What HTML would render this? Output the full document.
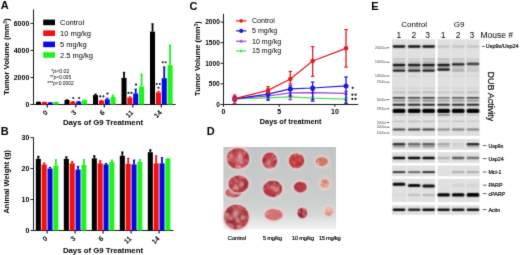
<!DOCTYPE html><html><head><meta charset="utf-8"><style>html,body{margin:0;padding:0;background:#fff;width:520px;height:255px;overflow:hidden}svg{display:block;will-change:transform}text{font-family:"Liberation Sans",sans-serif}</style></head><body>
<svg width="520" height="255" viewBox="0 0 520 255">
<filter id="gb" color-interpolation-filters="sRGB" x="0" y="0" width="520" height="255" filterUnits="userSpaceOnUse"><feConvolveMatrix order="3" kernelMatrix="0.0114 0.0841 0.0114 0.0841 0.6178 0.0841 0.0114 0.0841 0.0114" divisor="1" edgeMode="duplicate"/></filter>
<g filter="url(#gb)"><rect width="520" height="255" fill="#fff"/>
<defs><filter id="b1" x="-50%" y="-50%" width="200%" height="200%" color-interpolation-filters="sRGB"><feConvolveMatrix order="3" kernelMatrix="0.0277 0.1110 0.0277 0.1110 0.4452 0.1110 0.0277 0.1110 0.0277" divisor="1" edgeMode="none"/></filter><filter id="b2" x="-50%" y="-50%" width="200%" height="200%"><feGaussianBlur stdDeviation="1.0"/></filter><filter id="b3" x="-50%" y="-50%" width="200%" height="200%" color-interpolation-filters="sRGB"><feConvolveMatrix order="3" kernelMatrix="0.0052 0.0619 0.0052 0.0619 0.7314 0.0619 0.0052 0.0619 0.0052" divisor="1" edgeMode="none"/></filter></defs>
<text x="0.8" y="9.1" font-size="11" font-weight="bold" text-anchor="start" fill="#000" >A</text>
<text x="0.8" y="135.2" font-size="11" font-weight="bold" text-anchor="start" fill="#000" >B</text>
<text x="189.5" y="10.2" font-size="11" font-weight="bold" text-anchor="start" fill="#000" >C</text>
<text x="206.8" y="135.2" font-size="11" font-weight="bold" text-anchor="start" fill="#000" >D</text>
<text x="371.2" y="10.2" font-size="11" font-weight="bold" text-anchor="start" fill="#000" >E</text>
<line x1="33.5" y1="9.5" x2="33.5" y2="104.5" stroke="#1a1a1a" stroke-width="1"/>
<line x1="33.5" y1="104.5" x2="175.7" y2="104.5" stroke="#1a1a1a" stroke-width="1"/>
<line x1="30.5" y1="104.50" x2="33.5" y2="104.50" stroke="#1a1a1a" stroke-width="1"/>
<text x="29.3" y="107.0" font-size="7" font-weight="bold" text-anchor="end" fill="#000" >0</text>
<line x1="30.5" y1="77.47" x2="33.5" y2="77.47" stroke="#1a1a1a" stroke-width="1"/>
<text x="29.3" y="79.96666666666667" font-size="7" font-weight="bold" text-anchor="end" fill="#000" >2000</text>
<line x1="30.5" y1="50.43" x2="33.5" y2="50.43" stroke="#1a1a1a" stroke-width="1"/>
<text x="29.3" y="52.93333333333334" font-size="7" font-weight="bold" text-anchor="end" fill="#000" >4000</text>
<line x1="30.5" y1="23.40" x2="33.5" y2="23.40" stroke="#1a1a1a" stroke-width="1"/>
<text x="29.3" y="25.900000000000006" font-size="7" font-weight="bold" text-anchor="end" fill="#000" >6000</text>
<text x="0" y="0" font-size="7.7" font-weight="bold" text-anchor="middle" fill="#000" transform="translate(9.2,56.7) rotate(-90)">Tumor Volume (mm<tspan font-size="5" dy="-2.6">3</tspan><tspan dy="2.6">)</tspan></text>
<rect x="36.00" y="101.9" width="5.05" height="2.60" fill="#000000"/>
<line x1="38.52" y1="101.7" x2="38.52" y2="101.9" stroke="#000000" stroke-width="1.8"/>
<line x1="37.23" y1="102.10" x2="39.82" y2="102.10" stroke="#000000" stroke-width="0.8"/>
<rect x="41.85" y="102.0" width="5.05" height="2.50" fill="#f80c0c"/>
<line x1="44.38" y1="101.8" x2="44.38" y2="102.0" stroke="#f80c0c" stroke-width="1.8"/>
<line x1="43.08" y1="102.20" x2="45.67" y2="102.20" stroke="#f80c0c" stroke-width="0.8"/>
<rect x="47.70" y="102.4" width="5.05" height="2.10" fill="#0808e4"/>
<line x1="50.22" y1="102.2" x2="50.22" y2="102.4" stroke="#0808e4" stroke-width="1.8"/>
<line x1="48.92" y1="102.60" x2="51.52" y2="102.60" stroke="#0808e4" stroke-width="0.8"/>
<rect x="53.55" y="102.0" width="5.05" height="2.50" fill="#1cf41c"/>
<line x1="56.07" y1="101.8" x2="56.07" y2="102.0" stroke="#1cf41c" stroke-width="1.8"/>
<line x1="54.77" y1="102.20" x2="57.37" y2="102.20" stroke="#1cf41c" stroke-width="0.8"/>
<line x1="47.30" y1="104.5" x2="47.30" y2="107.5" stroke="#1a1a1a" stroke-width="1.2"/>
<rect x="64.50" y="100.0" width="5.05" height="4.50" fill="#000000"/>
<line x1="67.02" y1="99.5" x2="67.02" y2="100.0" stroke="#000000" stroke-width="1.8"/>
<line x1="65.72" y1="99.90" x2="68.32" y2="99.90" stroke="#000000" stroke-width="0.8"/>
<rect x="70.35" y="101.6" width="5.05" height="2.90" fill="#f80c0c"/>
<line x1="72.87" y1="101.1" x2="72.87" y2="101.6" stroke="#f80c0c" stroke-width="1.8"/>
<line x1="71.57" y1="101.50" x2="74.17" y2="101.50" stroke="#f80c0c" stroke-width="0.8"/>
<rect x="76.20" y="101.6" width="5.05" height="2.90" fill="#0808e4"/>
<line x1="78.72" y1="101.1" x2="78.72" y2="101.6" stroke="#0808e4" stroke-width="1.8"/>
<line x1="77.42" y1="101.50" x2="80.02" y2="101.50" stroke="#0808e4" stroke-width="0.8"/>
<rect x="82.05" y="100.2" width="5.05" height="4.30" fill="#1cf41c"/>
<line x1="84.57" y1="99.7" x2="84.57" y2="100.2" stroke="#1cf41c" stroke-width="1.8"/>
<line x1="83.27" y1="100.10" x2="85.87" y2="100.10" stroke="#1cf41c" stroke-width="0.8"/>
<line x1="75.80" y1="104.5" x2="75.80" y2="107.5" stroke="#1a1a1a" stroke-width="1.2"/>
<rect x="93.00" y="95.1" width="5.05" height="9.40" fill="#000000"/>
<line x1="95.52" y1="93.8" x2="95.52" y2="95.1" stroke="#000000" stroke-width="1.8"/>
<line x1="94.22" y1="94.20" x2="96.82" y2="94.20" stroke="#000000" stroke-width="0.8"/>
<rect x="98.85" y="100.6" width="5.05" height="3.90" fill="#f80c0c"/>
<line x1="101.37" y1="100.0" x2="101.37" y2="100.6" stroke="#f80c0c" stroke-width="1.8"/>
<line x1="100.07" y1="100.40" x2="102.67" y2="100.40" stroke="#f80c0c" stroke-width="0.8"/>
<rect x="104.70" y="99.3" width="5.05" height="5.20" fill="#0808e4"/>
<line x1="107.22" y1="97.9" x2="107.22" y2="99.3" stroke="#0808e4" stroke-width="1.8"/>
<line x1="105.92" y1="98.30" x2="108.52" y2="98.30" stroke="#0808e4" stroke-width="0.8"/>
<rect x="110.55" y="97.0" width="5.05" height="7.50" fill="#1cf41c"/>
<line x1="113.07" y1="94.8" x2="113.07" y2="97.0" stroke="#1cf41c" stroke-width="1.8"/>
<line x1="111.77" y1="95.20" x2="114.37" y2="95.20" stroke="#1cf41c" stroke-width="0.8"/>
<line x1="104.30" y1="104.5" x2="104.30" y2="107.5" stroke="#1a1a1a" stroke-width="1.2"/>
<rect x="121.50" y="77.8" width="5.05" height="26.70" fill="#000000"/>
<line x1="124.02" y1="71.9" x2="124.02" y2="77.8" stroke="#000000" stroke-width="1.8"/>
<line x1="122.72" y1="72.30" x2="125.32" y2="72.30" stroke="#000000" stroke-width="0.8"/>
<rect x="127.35" y="97.5" width="5.05" height="7.00" fill="#f80c0c"/>
<line x1="129.88" y1="96.5" x2="129.88" y2="97.5" stroke="#f80c0c" stroke-width="1.8"/>
<line x1="128.57" y1="96.90" x2="131.18" y2="96.90" stroke="#f80c0c" stroke-width="0.8"/>
<rect x="133.20" y="93.4" width="5.05" height="11.10" fill="#0808e4"/>
<line x1="135.72" y1="88.8" x2="135.72" y2="93.4" stroke="#0808e4" stroke-width="1.8"/>
<line x1="134.42" y1="89.20" x2="137.03" y2="89.20" stroke="#0808e4" stroke-width="0.8"/>
<rect x="139.05" y="86.4" width="5.05" height="18.10" fill="#1cf41c"/>
<line x1="141.57" y1="73.7" x2="141.57" y2="86.4" stroke="#1cf41c" stroke-width="1.8"/>
<line x1="140.27" y1="74.10" x2="142.88" y2="74.10" stroke="#1cf41c" stroke-width="0.8"/>
<line x1="132.80" y1="104.5" x2="132.80" y2="107.5" stroke="#1a1a1a" stroke-width="1.2"/>
<rect x="150.00" y="31.6" width="5.05" height="72.90" fill="#000000"/>
<line x1="152.53" y1="23.5" x2="152.53" y2="31.6" stroke="#000000" stroke-width="1.8"/>
<line x1="151.22" y1="23.90" x2="153.83" y2="23.90" stroke="#000000" stroke-width="0.8"/>
<rect x="155.85" y="92.4" width="5.05" height="12.10" fill="#f80c0c"/>
<line x1="158.38" y1="91.0" x2="158.38" y2="92.4" stroke="#f80c0c" stroke-width="1.8"/>
<line x1="157.07" y1="91.40" x2="159.68" y2="91.40" stroke="#f80c0c" stroke-width="0.8"/>
<rect x="161.70" y="78.2" width="5.05" height="26.30" fill="#0808e4"/>
<line x1="164.22" y1="66.6" x2="164.22" y2="78.2" stroke="#0808e4" stroke-width="1.8"/>
<line x1="162.92" y1="67.00" x2="165.53" y2="67.00" stroke="#0808e4" stroke-width="0.8"/>
<rect x="167.55" y="65.2" width="5.05" height="39.30" fill="#1cf41c"/>
<line x1="170.07" y1="44.7" x2="170.07" y2="65.2" stroke="#1cf41c" stroke-width="1.8"/>
<line x1="168.77" y1="45.10" x2="171.38" y2="45.10" stroke="#1cf41c" stroke-width="0.8"/>
<line x1="161.30" y1="104.5" x2="161.30" y2="107.5" stroke="#1a1a1a" stroke-width="1.2"/>
<text x="0" y="0" font-size="7" font-weight="bold" text-anchor="end" fill="#000" transform="translate(48.30,113.0) rotate(-45)">0</text>
<text x="0" y="0" font-size="7" font-weight="bold" text-anchor="end" fill="#000" transform="translate(76.80,113.0) rotate(-45)">3</text>
<text x="0" y="0" font-size="7" font-weight="bold" text-anchor="end" fill="#000" transform="translate(105.30,113.0) rotate(-45)">6</text>
<text x="0" y="0" font-size="7" font-weight="bold" text-anchor="end" fill="#000" transform="translate(133.80,113.0) rotate(-45)">11</text>
<text x="0" y="0" font-size="7" font-weight="bold" text-anchor="end" fill="#000" transform="translate(162.30,113.0) rotate(-45)">14</text>
<text x="103" y="124.6" font-size="7.8" font-weight="bold" text-anchor="middle" fill="#000" >Days of G9 Treatment</text>
<circle cx="73.3" cy="98.0" r="1.05" fill="#1a1a1a"/>
<circle cx="79.2" cy="98.0" r="1.05" fill="#1a1a1a"/>
<circle cx="100.2" cy="96.4" r="1.05" fill="#1a1a1a"/>
<circle cx="103.4" cy="96.4" r="1.05" fill="#1a1a1a"/>
<circle cx="107.5" cy="93.6" r="1.15" fill="#1a1a1a"/>
<circle cx="128.5" cy="92.9" r="1.05" fill="#1a1a1a"/>
<circle cx="131.5" cy="92.9" r="1.05" fill="#1a1a1a"/>
<circle cx="136.0" cy="84.6" r="1.15" fill="#1a1a1a"/>
<circle cx="156.8" cy="84.0" r="1.05" fill="#1a1a1a"/>
<circle cx="159.8" cy="84.0" r="1.05" fill="#1a1a1a"/>
<circle cx="158.5" cy="87.8" r="1.05" fill="#1a1a1a"/>
<circle cx="162.7" cy="62.3" r="1.05" fill="#1a1a1a"/>
<circle cx="165.6" cy="62.3" r="1.05" fill="#1a1a1a"/>
<rect x="43.2" y="19.6" width="11.8" height="5.6" fill="#000000"/>
<text x="60" y="24.900000000000002" font-size="7.5" font-weight="normal" text-anchor="start" fill="#000" >Control</text>
<rect x="43.2" y="30.4" width="11.8" height="5.6" fill="#f80c0c"/>
<text x="60" y="35.699999999999996" font-size="7.5" font-weight="normal" text-anchor="start" fill="#000" >10 mg/kg</text>
<rect x="43.2" y="41.6" width="11.8" height="5.6" fill="#0808e4"/>
<text x="60" y="46.9" font-size="7.5" font-weight="normal" text-anchor="start" fill="#000" >5 mg/kg</text>
<rect x="43.2" y="52.2" width="11.8" height="5.6" fill="#1cf41c"/>
<text x="60" y="57.5" font-size="7.5" font-weight="normal" text-anchor="start" fill="#000" >2.5 mg/kg</text>
<text x="51.2" y="73.3" font-size="5.2" font-weight="normal" text-anchor="start" fill="#000" textLength="18.3" lengthAdjust="spacingAndGlyphs">*<tspan font-style="italic">p</tspan>&lt;0.02</text>
<text x="50.0" y="78.7" font-size="5.2" font-weight="normal" text-anchor="start" fill="#000" textLength="21.1" lengthAdjust="spacingAndGlyphs">**<tspan font-style="italic">p</tspan>&lt;0.005</text>
<text x="47.3" y="84.7" font-size="5.2" font-weight="normal" text-anchor="start" fill="#000" textLength="26.5" lengthAdjust="spacingAndGlyphs">***<tspan font-style="italic">p</tspan>&lt;0.0002</text>
<line x1="33.5" y1="137.4" x2="33.5" y2="230.5" stroke="#1a1a1a" stroke-width="1"/>
<line x1="33.5" y1="230.5" x2="173.5" y2="230.5" stroke="#1a1a1a" stroke-width="1"/>
<line x1="30.5" y1="230.50" x2="33.5" y2="230.50" stroke="#1a1a1a" stroke-width="1"/>
<text x="29.3" y="233.0" font-size="7" font-weight="bold" text-anchor="end" fill="#000" >0</text>
<line x1="30.5" y1="199.53" x2="33.5" y2="199.53" stroke="#1a1a1a" stroke-width="1"/>
<text x="29.3" y="202.03333333333333" font-size="7" font-weight="bold" text-anchor="end" fill="#000" >10</text>
<line x1="30.5" y1="168.57" x2="33.5" y2="168.57" stroke="#1a1a1a" stroke-width="1"/>
<text x="29.3" y="171.06666666666666" font-size="7" font-weight="bold" text-anchor="end" fill="#000" >20</text>
<line x1="30.5" y1="137.60" x2="33.5" y2="137.60" stroke="#1a1a1a" stroke-width="1"/>
<text x="29.3" y="140.1" font-size="7" font-weight="bold" text-anchor="end" fill="#000" >30</text>
<text x="0" y="0" font-size="7.5" font-weight="bold" text-anchor="middle" fill="#000" transform="translate(9.2,181.8) rotate(-90)">Animal Weight (g)</text>
<rect x="35.80" y="158.9" width="5.05" height="71.60" fill="#000000"/>
<line x1="38.32" y1="156.0" x2="38.32" y2="158.9" stroke="#000000" stroke-width="1.8"/>
<line x1="37.02" y1="156.40" x2="39.62" y2="156.40" stroke="#000000" stroke-width="0.8"/>
<rect x="41.65" y="164.4" width="5.05" height="66.10" fill="#f80c0c"/>
<line x1="44.17" y1="162.7" x2="44.17" y2="164.4" stroke="#f80c0c" stroke-width="1.8"/>
<line x1="42.88" y1="163.10" x2="45.47" y2="163.10" stroke="#f80c0c" stroke-width="0.8"/>
<rect x="47.50" y="168.5" width="5.05" height="62.00" fill="#0808e4"/>
<line x1="50.02" y1="167.0" x2="50.02" y2="168.5" stroke="#0808e4" stroke-width="1.8"/>
<line x1="48.72" y1="167.40" x2="51.32" y2="167.40" stroke="#0808e4" stroke-width="0.8"/>
<rect x="53.35" y="165.9" width="5.05" height="64.60" fill="#1cf41c"/>
<line x1="55.87" y1="159.4" x2="55.87" y2="165.9" stroke="#1cf41c" stroke-width="1.8"/>
<line x1="54.57" y1="159.80" x2="57.17" y2="159.80" stroke="#1cf41c" stroke-width="0.8"/>
<line x1="47.10" y1="230.5" x2="47.10" y2="233.5" stroke="#1a1a1a" stroke-width="1.2"/>
<rect x="63.80" y="158.9" width="5.05" height="71.60" fill="#000000"/>
<line x1="66.33" y1="156.5" x2="66.33" y2="158.9" stroke="#000000" stroke-width="1.8"/>
<line x1="65.03" y1="156.90" x2="67.62" y2="156.90" stroke="#000000" stroke-width="0.8"/>
<rect x="69.65" y="163.3" width="5.05" height="67.20" fill="#f80c0c"/>
<line x1="72.17" y1="161.3" x2="72.17" y2="163.3" stroke="#f80c0c" stroke-width="1.8"/>
<line x1="70.88" y1="161.70" x2="73.47" y2="161.70" stroke="#f80c0c" stroke-width="0.8"/>
<rect x="75.50" y="169.5" width="5.05" height="61.00" fill="#0808e4"/>
<line x1="78.02" y1="165.9" x2="78.02" y2="169.5" stroke="#0808e4" stroke-width="1.8"/>
<line x1="76.72" y1="166.30" x2="79.32" y2="166.30" stroke="#0808e4" stroke-width="0.8"/>
<rect x="81.35" y="165.0" width="5.05" height="65.50" fill="#1cf41c"/>
<line x1="83.87" y1="159.4" x2="83.87" y2="165.0" stroke="#1cf41c" stroke-width="1.8"/>
<line x1="82.57" y1="159.80" x2="85.17" y2="159.80" stroke="#1cf41c" stroke-width="0.8"/>
<line x1="75.10" y1="230.5" x2="75.10" y2="233.5" stroke="#1a1a1a" stroke-width="1.2"/>
<rect x="91.80" y="158.4" width="5.05" height="72.10" fill="#000000"/>
<line x1="94.33" y1="155.5" x2="94.33" y2="158.4" stroke="#000000" stroke-width="1.8"/>
<line x1="93.03" y1="155.90" x2="95.62" y2="155.90" stroke="#000000" stroke-width="0.8"/>
<rect x="97.65" y="163.3" width="5.05" height="67.20" fill="#f80c0c"/>
<line x1="100.17" y1="160.4" x2="100.17" y2="163.3" stroke="#f80c0c" stroke-width="1.8"/>
<line x1="98.88" y1="160.80" x2="101.47" y2="160.80" stroke="#f80c0c" stroke-width="0.8"/>
<rect x="103.50" y="164.4" width="5.05" height="66.10" fill="#0808e4"/>
<line x1="106.03" y1="163.0" x2="106.03" y2="164.4" stroke="#0808e4" stroke-width="1.8"/>
<line x1="104.73" y1="163.40" x2="107.33" y2="163.40" stroke="#0808e4" stroke-width="0.8"/>
<rect x="109.35" y="161.8" width="5.05" height="68.70" fill="#1cf41c"/>
<line x1="111.88" y1="159.8" x2="111.88" y2="161.8" stroke="#1cf41c" stroke-width="1.8"/>
<line x1="110.58" y1="160.20" x2="113.17" y2="160.20" stroke="#1cf41c" stroke-width="0.8"/>
<line x1="103.10" y1="230.5" x2="103.10" y2="233.5" stroke="#1a1a1a" stroke-width="1.2"/>
<rect x="119.80" y="155.8" width="5.05" height="74.70" fill="#000000"/>
<line x1="122.33" y1="151.7" x2="122.33" y2="155.8" stroke="#000000" stroke-width="1.8"/>
<line x1="121.03" y1="152.10" x2="123.62" y2="152.10" stroke="#000000" stroke-width="0.8"/>
<rect x="125.65" y="163.7" width="5.05" height="66.80" fill="#f80c0c"/>
<line x1="128.18" y1="157.9" x2="128.18" y2="163.7" stroke="#f80c0c" stroke-width="1.8"/>
<line x1="126.88" y1="158.30" x2="129.48" y2="158.30" stroke="#f80c0c" stroke-width="0.8"/>
<rect x="131.50" y="164.4" width="5.05" height="66.10" fill="#0808e4"/>
<line x1="134.03" y1="159.8" x2="134.03" y2="164.4" stroke="#0808e4" stroke-width="1.8"/>
<line x1="132.72" y1="160.20" x2="135.33" y2="160.20" stroke="#0808e4" stroke-width="0.8"/>
<rect x="137.35" y="161.8" width="5.05" height="68.70" fill="#1cf41c"/>
<line x1="139.88" y1="159.4" x2="139.88" y2="161.8" stroke="#1cf41c" stroke-width="1.8"/>
<line x1="138.57" y1="159.80" x2="141.18" y2="159.80" stroke="#1cf41c" stroke-width="0.8"/>
<line x1="131.10" y1="230.5" x2="131.10" y2="233.5" stroke="#1a1a1a" stroke-width="1.2"/>
<rect x="147.80" y="152.2" width="5.05" height="78.30" fill="#000000"/>
<line x1="150.33" y1="149.5" x2="150.33" y2="152.2" stroke="#000000" stroke-width="1.8"/>
<line x1="149.03" y1="149.90" x2="151.63" y2="149.90" stroke="#000000" stroke-width="0.8"/>
<rect x="153.65" y="163.3" width="5.05" height="67.20" fill="#f80c0c"/>
<line x1="156.18" y1="155.5" x2="156.18" y2="163.3" stroke="#f80c0c" stroke-width="1.8"/>
<line x1="154.88" y1="155.90" x2="157.48" y2="155.90" stroke="#f80c0c" stroke-width="0.8"/>
<rect x="159.50" y="163.3" width="5.05" height="67.20" fill="#0808e4"/>
<line x1="162.03" y1="157.2" x2="162.03" y2="163.3" stroke="#0808e4" stroke-width="1.8"/>
<line x1="160.72" y1="157.60" x2="163.33" y2="157.60" stroke="#0808e4" stroke-width="0.8"/>
<rect x="165.35" y="158.7" width="5.05" height="71.80" fill="#1cf41c"/>
<line x1="167.88" y1="158.0" x2="167.88" y2="158.7" stroke="#1cf41c" stroke-width="1.8"/>
<line x1="166.57" y1="158.40" x2="169.18" y2="158.40" stroke="#1cf41c" stroke-width="0.8"/>
<line x1="159.10" y1="230.5" x2="159.10" y2="233.5" stroke="#1a1a1a" stroke-width="1.2"/>
<text x="0" y="0" font-size="7" font-weight="bold" text-anchor="end" fill="#000" transform="translate(48.10,239.1) rotate(-45)">0</text>
<text x="0" y="0" font-size="7" font-weight="bold" text-anchor="end" fill="#000" transform="translate(76.10,239.1) rotate(-45)">3</text>
<text x="0" y="0" font-size="7" font-weight="bold" text-anchor="end" fill="#000" transform="translate(104.10,239.1) rotate(-45)">6</text>
<text x="0" y="0" font-size="7" font-weight="bold" text-anchor="end" fill="#000" transform="translate(132.10,239.1) rotate(-45)">11</text>
<text x="0" y="0" font-size="7" font-weight="bold" text-anchor="end" fill="#000" transform="translate(160.10,239.1) rotate(-45)">14</text>
<text x="103" y="253.2" font-size="7.8" font-weight="bold" text-anchor="middle" fill="#000" >Days of G9 Treatment</text>
<line x1="223.5" y1="13.8" x2="223.5" y2="104.5" stroke="#1a1a1a" stroke-width="1"/>
<line x1="223.5" y1="104.5" x2="358.3" y2="104.5" stroke="#1a1a1a" stroke-width="1"/>
<line x1="220.6" y1="104.50" x2="223.5" y2="104.50" stroke="#1a1a1a" stroke-width="1"/>
<text x="219.8" y="106.8" font-size="6.6" font-weight="bold" text-anchor="end" fill="#000" >0</text>
<line x1="220.6" y1="83.90" x2="223.5" y2="83.90" stroke="#1a1a1a" stroke-width="1"/>
<text x="219.8" y="86.2" font-size="6.6" font-weight="bold" text-anchor="end" fill="#000" >500</text>
<line x1="220.6" y1="63.30" x2="223.5" y2="63.30" stroke="#1a1a1a" stroke-width="1"/>
<text x="219.8" y="65.6" font-size="6.6" font-weight="bold" text-anchor="end" fill="#000" >1000</text>
<line x1="220.6" y1="42.70" x2="223.5" y2="42.70" stroke="#1a1a1a" stroke-width="1"/>
<text x="219.8" y="44.99999999999999" font-size="6.6" font-weight="bold" text-anchor="end" fill="#000" >1500</text>
<line x1="220.6" y1="22.10" x2="223.5" y2="22.10" stroke="#1a1a1a" stroke-width="1"/>
<text x="219.8" y="24.399999999999995" font-size="6.6" font-weight="bold" text-anchor="end" fill="#000" >2000</text>
<line x1="223.50" y1="104.5" x2="223.50" y2="106.8" stroke="#1a1a1a" stroke-width="1"/>
<text x="223.5" y="114.2" font-size="7" font-weight="bold" text-anchor="middle" fill="#000" >0</text>
<line x1="279.20" y1="104.5" x2="279.20" y2="106.8" stroke="#1a1a1a" stroke-width="1"/>
<text x="279.2" y="114.2" font-size="7" font-weight="bold" text-anchor="middle" fill="#000" >5</text>
<line x1="334.90" y1="104.5" x2="334.90" y2="106.8" stroke="#1a1a1a" stroke-width="1"/>
<text x="334.9" y="114.2" font-size="7" font-weight="bold" text-anchor="middle" fill="#000" >10</text>
<text x="290.65" y="123.9" font-size="7.3" font-weight="bold" text-anchor="middle" fill="#000" >Days of treatment</text>
<text x="0" y="0" font-size="7.5" font-weight="bold" text-anchor="middle" fill="#000" transform="translate(200.4,58.6) rotate(-90)">Tumor Volume (mm<tspan font-size="5" dy="-2.5">3</tspan><tspan dy="2.5">)</tspan></text>
<line x1="234.64" y1="97.5" x2="234.64" y2="100.5" stroke="#55dd55" stroke-width="1.3"/>
<line x1="232.84" y1="97.5" x2="236.44" y2="97.5" stroke="#55dd55" stroke-width="1.2"/>
<line x1="232.84" y1="100.5" x2="236.44" y2="100.5" stroke="#55dd55" stroke-width="1.2"/>
<line x1="268.06" y1="96.5" x2="268.06" y2="99.2" stroke="#55dd55" stroke-width="1.3"/>
<line x1="266.26" y1="96.5" x2="269.86" y2="96.5" stroke="#55dd55" stroke-width="1.2"/>
<line x1="266.26" y1="99.2" x2="269.86" y2="99.2" stroke="#55dd55" stroke-width="1.2"/>
<line x1="290.34" y1="95.5" x2="290.34" y2="99.6" stroke="#55dd55" stroke-width="1.3"/>
<line x1="288.54" y1="95.5" x2="292.14" y2="95.5" stroke="#55dd55" stroke-width="1.2"/>
<line x1="288.54" y1="99.6" x2="292.14" y2="99.6" stroke="#55dd55" stroke-width="1.2"/>
<line x1="312.62" y1="97.0" x2="312.62" y2="99.5" stroke="#55dd55" stroke-width="1.3"/>
<line x1="310.82" y1="97.0" x2="314.42" y2="97.0" stroke="#55dd55" stroke-width="1.2"/>
<line x1="310.82" y1="99.5" x2="314.42" y2="99.5" stroke="#55dd55" stroke-width="1.2"/>
<line x1="346.04" y1="98.0" x2="346.04" y2="100.5" stroke="#55dd55" stroke-width="1.3"/>
<line x1="344.24" y1="98.0" x2="347.84" y2="98.0" stroke="#55dd55" stroke-width="1.2"/>
<line x1="344.24" y1="100.5" x2="347.84" y2="100.5" stroke="#55dd55" stroke-width="1.2"/>
<polyline points="234.64,98.8 268.06,97.8 290.34,96.9 312.62,98.2 346.04,99.2" fill="none" stroke="#55dd55" stroke-width="1.25"/>
<path d="M234.64,96.70 L236.64,100.20 L232.64,100.20Z" fill="#55dd55"/>
<path d="M268.06,95.70 L270.06,99.20 L266.06,99.20Z" fill="#55dd55"/>
<path d="M290.34,94.80 L292.34,98.30 L288.34,98.30Z" fill="#55dd55"/>
<path d="M312.62,96.10 L314.62,99.60 L310.62,99.60Z" fill="#55dd55"/>
<path d="M346.04,97.10 L348.04,100.60 L344.04,100.60Z" fill="#55dd55"/>
<line x1="234.64" y1="97.0" x2="234.64" y2="100.5" stroke="#a040d8" stroke-width="1.3"/>
<line x1="232.84" y1="97.0" x2="236.44" y2="97.0" stroke="#a040d8" stroke-width="1.2"/>
<line x1="232.84" y1="100.5" x2="236.44" y2="100.5" stroke="#a040d8" stroke-width="1.2"/>
<line x1="268.06" y1="94.5" x2="268.06" y2="97.5" stroke="#a040d8" stroke-width="1.3"/>
<line x1="266.26" y1="94.5" x2="269.86" y2="94.5" stroke="#a040d8" stroke-width="1.2"/>
<line x1="266.26" y1="97.5" x2="269.86" y2="97.5" stroke="#a040d8" stroke-width="1.2"/>
<line x1="290.34" y1="90.5" x2="290.34" y2="99.6" stroke="#a040d8" stroke-width="1.3"/>
<line x1="288.54" y1="90.5" x2="292.14" y2="90.5" stroke="#a040d8" stroke-width="1.2"/>
<line x1="288.54" y1="99.6" x2="292.14" y2="99.6" stroke="#a040d8" stroke-width="1.2"/>
<line x1="312.62" y1="90.5" x2="312.62" y2="101.5" stroke="#a040d8" stroke-width="1.3"/>
<line x1="310.82" y1="90.5" x2="314.42" y2="90.5" stroke="#a040d8" stroke-width="1.2"/>
<line x1="310.82" y1="101.5" x2="314.42" y2="101.5" stroke="#a040d8" stroke-width="1.2"/>
<line x1="346.04" y1="91.5" x2="346.04" y2="103.6" stroke="#a040d8" stroke-width="1.3"/>
<line x1="344.24" y1="91.5" x2="347.84" y2="91.5" stroke="#a040d8" stroke-width="1.2"/>
<line x1="344.24" y1="103.6" x2="347.84" y2="103.6" stroke="#a040d8" stroke-width="1.2"/>
<polyline points="234.64,98.8 268.06,96.0 290.34,92.8 312.62,92.7 346.04,93.4" fill="none" stroke="#a040d8" stroke-width="1.25"/>
<path d="M234.64,96.70 L236.64,100.20 L232.64,100.20Z" fill="#a040d8"/>
<path d="M268.06,93.90 L270.06,97.40 L266.06,97.40Z" fill="#a040d8"/>
<path d="M290.34,90.70 L292.34,94.20 L288.34,94.20Z" fill="#a040d8"/>
<path d="M312.62,90.60 L314.62,94.10 L310.62,94.10Z" fill="#a040d8"/>
<path d="M346.04,91.30 L348.04,94.80 L344.04,94.80Z" fill="#a040d8"/>
<line x1="234.64" y1="96.5" x2="234.64" y2="101.0" stroke="#1a1ad8" stroke-width="1.3"/>
<line x1="232.84" y1="96.5" x2="236.44" y2="96.5" stroke="#1a1ad8" stroke-width="1.2"/>
<line x1="232.84" y1="101.0" x2="236.44" y2="101.0" stroke="#1a1ad8" stroke-width="1.2"/>
<line x1="268.06" y1="91.5" x2="268.06" y2="100.2" stroke="#1a1ad8" stroke-width="1.3"/>
<line x1="266.26" y1="91.5" x2="269.86" y2="91.5" stroke="#1a1ad8" stroke-width="1.2"/>
<line x1="266.26" y1="100.2" x2="269.86" y2="100.2" stroke="#1a1ad8" stroke-width="1.2"/>
<line x1="290.34" y1="85.8" x2="290.34" y2="96.0" stroke="#1a1ad8" stroke-width="1.3"/>
<line x1="288.54" y1="85.8" x2="292.14" y2="85.8" stroke="#1a1ad8" stroke-width="1.2"/>
<line x1="288.54" y1="96.0" x2="292.14" y2="96.0" stroke="#1a1ad8" stroke-width="1.2"/>
<line x1="312.62" y1="82.1" x2="312.62" y2="100.0" stroke="#1a1ad8" stroke-width="1.3"/>
<line x1="310.82" y1="82.1" x2="314.42" y2="82.1" stroke="#1a1ad8" stroke-width="1.2"/>
<line x1="310.82" y1="100.0" x2="314.42" y2="100.0" stroke="#1a1ad8" stroke-width="1.2"/>
<line x1="346.04" y1="77.0" x2="346.04" y2="103.2" stroke="#1a1ad8" stroke-width="1.3"/>
<line x1="344.24" y1="77.0" x2="347.84" y2="77.0" stroke="#1a1ad8" stroke-width="1.2"/>
<line x1="344.24" y1="103.2" x2="347.84" y2="103.2" stroke="#1a1ad8" stroke-width="1.2"/>
<polyline points="234.64,98.8 268.06,94.1 290.34,88.9 312.62,88.0 346.04,85.9" fill="none" stroke="#1a1ad8" stroke-width="1.25"/>
<circle cx="234.64" cy="98.8" r="2.5" fill="#1a1ad8"/>
<circle cx="268.06" cy="94.1" r="2.5" fill="#1a1ad8"/>
<circle cx="290.34" cy="88.9" r="2.5" fill="#1a1ad8"/>
<circle cx="312.62" cy="88.0" r="2.5" fill="#1a1ad8"/>
<circle cx="346.04" cy="85.9" r="2.5" fill="#1a1ad8"/>
<line x1="234.64" y1="95.0" x2="234.64" y2="103.3" stroke="#e41a1c" stroke-width="1.3"/>
<line x1="232.84" y1="95.0" x2="236.44" y2="95.0" stroke="#e41a1c" stroke-width="1.2"/>
<line x1="232.84" y1="103.3" x2="236.44" y2="103.3" stroke="#e41a1c" stroke-width="1.2"/>
<line x1="268.06" y1="86.7" x2="268.06" y2="93.2" stroke="#e41a1c" stroke-width="1.3"/>
<line x1="266.26" y1="86.7" x2="269.86" y2="86.7" stroke="#e41a1c" stroke-width="1.2"/>
<line x1="266.26" y1="93.2" x2="269.86" y2="93.2" stroke="#e41a1c" stroke-width="1.2"/>
<line x1="290.34" y1="71.4" x2="290.34" y2="84.0" stroke="#e41a1c" stroke-width="1.3"/>
<line x1="288.54" y1="71.4" x2="292.14" y2="71.4" stroke="#e41a1c" stroke-width="1.2"/>
<line x1="288.54" y1="84.0" x2="292.14" y2="84.0" stroke="#e41a1c" stroke-width="1.2"/>
<line x1="312.62" y1="46.6" x2="312.62" y2="76.3" stroke="#e41a1c" stroke-width="1.3"/>
<line x1="310.82" y1="46.6" x2="314.42" y2="46.6" stroke="#e41a1c" stroke-width="1.2"/>
<line x1="310.82" y1="76.3" x2="314.42" y2="76.3" stroke="#e41a1c" stroke-width="1.2"/>
<line x1="346.04" y1="29.6" x2="346.04" y2="67.1" stroke="#e41a1c" stroke-width="1.3"/>
<line x1="344.24" y1="29.6" x2="347.84" y2="29.6" stroke="#e41a1c" stroke-width="1.2"/>
<line x1="344.24" y1="67.1" x2="347.84" y2="67.1" stroke="#e41a1c" stroke-width="1.2"/>
<polyline points="234.64,98.7 268.06,90.4 290.34,79.0 312.62,61.0 346.04,48.3" fill="none" stroke="#e41a1c" stroke-width="1.25"/>
<circle cx="234.64" cy="98.7" r="2.3" fill="#e41a1c"/>
<circle cx="268.06" cy="90.4" r="2.3" fill="#e41a1c"/>
<circle cx="290.34" cy="79.0" r="2.3" fill="#e41a1c"/>
<circle cx="312.62" cy="61.0" r="2.3" fill="#e41a1c"/>
<circle cx="346.04" cy="48.3" r="2.3" fill="#e41a1c"/>
<circle cx="352.7" cy="87.8" r="1.1" fill="#1a1a1a"/>
<circle cx="352.4" cy="94.7" r="1.1" fill="#1a1a1a"/>
<circle cx="355.6" cy="94.7" r="1.1" fill="#1a1a1a"/>
<circle cx="352.4" cy="98.9" r="1.1" fill="#1a1a1a"/>
<circle cx="355.6" cy="98.9" r="1.1" fill="#1a1a1a"/>
<line x1="236" y1="20.9" x2="246.4" y2="20.9" stroke="#e41a1c" stroke-width="1.2"/>
<circle cx="241.2" cy="20.9" r="1.8" fill="#e41a1c"/>
<text x="252" y="23.4" font-size="7.1" font-weight="normal" text-anchor="start" fill="#000" >Control</text>
<line x1="236" y1="30.9" x2="246.4" y2="30.9" stroke="#1a1ad8" stroke-width="1.2"/>
<circle cx="241.2" cy="30.9" r="2.1" fill="#1a1ad8"/>
<text x="252" y="33.4" font-size="7.1" font-weight="normal" text-anchor="start" fill="#000" >5 mg/kg</text>
<line x1="236" y1="41.2" x2="246.4" y2="41.2" stroke="#a040d8" stroke-width="1.2"/>
<path d="M241.2,39.30 L243.0,42.50 L239.4,42.50Z" fill="#a040d8"/>
<text x="252" y="43.7" font-size="7.1" font-weight="normal" text-anchor="start" fill="#000" >10 mg/kg</text>
<line x1="236" y1="50.9" x2="246.4" y2="50.9" stroke="#55dd55" stroke-width="1.2"/>
<path d="M241.2,49.00 L243.0,52.20 L239.4,52.20Z" fill="#55dd55"/>
<text x="252" y="53.4" font-size="7.1" font-weight="normal" text-anchor="start" fill="#000" >15 mg/kg</text>
<defs><linearGradient id="pg" x1="0" y1="0" x2="0" y2="1"><stop offset="0" stop-color="#bec5c5"/><stop offset="0.08" stop-color="#c3c7c7"/><stop offset="0.4" stop-color="#c8caca"/><stop offset="0.65" stop-color="#cbcfce"/><stop offset="0.8" stop-color="#d2d6d5"/><stop offset="0.9" stop-color="#e2e5e4"/><stop offset="1" stop-color="#f2f3f3"/></linearGradient><radialGradient id="tr" cx="0.45" cy="0.45" r="0.6"><stop offset="0" stop-color="#b83040"/><stop offset="0.7" stop-color="#a82436"/><stop offset="1" stop-color="#d88890"/></radialGradient></defs>
<rect x="223.4" y="147.0" width="112.6" height="82.3" fill="url(#pg)"/>
<ellipse cx="238.0" cy="158.5" rx="12.899999999999999" ry="12.0" fill="#eed4d4" opacity="0.9" filter="url(#b2)"/>
<clipPath id="tc0"><ellipse cx="238.0" cy="158.5" rx="11.2" ry="10.3"/></clipPath>
<g filter="url(#b1)"><g clip-path="url(#tc0)">
<ellipse cx="238.0" cy="158.5" rx="11.2" ry="10.3" fill="#c04c54"/>
<ellipse cx="238.0" cy="158.5" rx="11.2" ry="10.3" fill="none" stroke="#8a2430" stroke-width="2.2" opacity="0.55"/>
<circle cx="236.9" cy="159.7" r="2.6" fill="#d88080" opacity="0.55"/>
<circle cx="236.9" cy="165.8" r="1.4" fill="#c89898" opacity="0.55"/>
<circle cx="237.5" cy="160.8" r="1.3" fill="#d88080" opacity="0.55"/>
<circle cx="233.6" cy="150.1" r="2.4" fill="#8a2430" opacity="0.55"/>
<circle cx="240.1" cy="156.4" r="1.8" fill="#dca098" opacity="0.55"/>
<circle cx="240.8" cy="165.3" r="1.1" fill="#8a2430" opacity="0.55"/>
<circle cx="231.1" cy="153.2" r="1.1" fill="#d88080" opacity="0.55"/>
<circle cx="234.1" cy="160.4" r="1.4" fill="#b83840" opacity="0.55"/>
<circle cx="241.1" cy="158.5" r="2.2" fill="#d88080" opacity="0.55"/>
<circle cx="241.5" cy="156.6" r="2.0" fill="#d06a6c" opacity="0.55"/>
<circle cx="242.7" cy="154.7" r="1.4" fill="#9c3038" opacity="0.55"/>
<circle cx="227.5" cy="159.8" r="1.2" fill="#d06a6c" opacity="0.55"/>
<circle cx="245.8" cy="156.2" r="2.7" fill="#8a2430" opacity="0.55"/>
<circle cx="231.6" cy="167.3" r="1.1" fill="#7a1c28" opacity="0.55"/>
<circle cx="248.8" cy="156.4" r="1.2" fill="#b83840" opacity="0.55"/>
<circle cx="244.2" cy="153.8" r="1.2" fill="#e0b0a8" opacity="0.55"/>
<circle cx="227.1" cy="156.6" r="2.6" fill="#dca098" opacity="0.55"/>
<circle cx="232.3" cy="150.3" r="1.1" fill="#d88080" opacity="0.55"/>
<circle cx="230.8" cy="159.7" r="1.8" fill="#b83840" opacity="0.55"/>
<circle cx="248.9" cy="164.1" r="1.7" fill="#7a1c28" opacity="0.55"/>
<circle cx="229.4" cy="156.9" r="1.4" fill="#9c3038" opacity="0.55"/>
<circle cx="246.2" cy="168.3" r="2.0" fill="#8a2430" opacity="0.55"/>
<circle cx="231.5" cy="156.3" r="2.5" fill="#d06a6c" opacity="0.55"/>
<circle cx="227.7" cy="151.2" r="1.8" fill="#8a2430" opacity="0.55"/>
<circle cx="244.1" cy="155.0" r="1.5" fill="#d06a6c" opacity="0.55"/>
<circle cx="228.5" cy="152.5" r="2.1" fill="#8a2430" opacity="0.55"/>
<circle cx="240.3" cy="155.9" r="1.8" fill="#d88080" opacity="0.55"/>
<circle cx="245.4" cy="151.0" r="1.7" fill="#dca098" opacity="0.55"/>
<circle cx="233.8" cy="152.9" r="2.1" fill="#b83840" opacity="0.55"/>
<circle cx="230.3" cy="161.2" r="2.0" fill="#7a1c28" opacity="0.55"/>
<circle cx="246.6" cy="160.6" r="1.8" fill="#d06a6c" opacity="0.55"/>
<circle cx="229.2" cy="158.8" r="1.5" fill="#7a1c28" opacity="0.55"/>
<circle cx="232.6" cy="165.2" r="2.1" fill="#9c3038" opacity="0.55"/>
<circle cx="238.4" cy="167.3" r="2.7" fill="#dca098" opacity="0.55"/>
<circle cx="231.9" cy="159.7" r="2.5" fill="#d06a6c" opacity="0.55"/>
<circle cx="233.1" cy="167.1" r="1.4" fill="#8a2430" opacity="0.55"/>
<circle cx="228.3" cy="156.7" r="1.5" fill="#8a2430" opacity="0.55"/>
<circle cx="230.7" cy="155.8" r="2.0" fill="#dca098" opacity="0.55"/>
<circle cx="228.9" cy="151.1" r="1.8" fill="#e0b0a8" opacity="0.55"/>
<circle cx="241.5" cy="162.4" r="2.0" fill="#dca098" opacity="0.55"/>
<circle cx="240.0" cy="167.2" r="1.8" fill="#e0b0a8" opacity="0.55"/>
<circle cx="242.5" cy="168.0" r="1.1" fill="#d06a6c" opacity="0.55"/>
<circle cx="237.6" cy="163.2" r="1.6" fill="#d06a6c" opacity="0.55"/>
<circle cx="228.5" cy="159.4" r="2.3" fill="#dca098" opacity="0.55"/>
<circle cx="244.6" cy="167.0" r="1.6" fill="#d88080" opacity="0.55"/>
<circle cx="247.0" cy="166.1" r="1.7" fill="#8a2430" opacity="0.55"/>
</g></g>
<ellipse cx="269.8" cy="160.6" rx="9.1" ry="9.7" fill="#eed4d4" opacity="0.9" filter="url(#b2)"/>
<clipPath id="tc1"><ellipse cx="269.8" cy="160.6" rx="7.4" ry="8.0"/></clipPath>
<g filter="url(#b1)"><g clip-path="url(#tc1)">
<ellipse cx="269.8" cy="160.6" rx="7.4" ry="8.0" fill="#c2404a"/>
<ellipse cx="269.8" cy="160.6" rx="7.4" ry="8.0" fill="none" stroke="#8a2430" stroke-width="2.2" opacity="0.55"/>
<circle cx="275.2" cy="161.8" r="1.5" fill="#7a1c28" opacity="0.55"/>
<circle cx="268.0" cy="152.8" r="0.8" fill="#d06a6c" opacity="0.55"/>
<circle cx="271.9" cy="168.5" r="1.8" fill="#e0b0a8" opacity="0.55"/>
<circle cx="268.1" cy="164.4" r="1.5" fill="#d88080" opacity="0.55"/>
<circle cx="269.2" cy="161.3" r="1.4" fill="#c89898" opacity="0.55"/>
<circle cx="262.8" cy="162.2" r="1.3" fill="#b83840" opacity="0.55"/>
<circle cx="276.6" cy="154.4" r="1.7" fill="#d88080" opacity="0.55"/>
<circle cx="266.2" cy="152.8" r="1.1" fill="#b83840" opacity="0.55"/>
<circle cx="270.1" cy="164.7" r="1.2" fill="#d88080" opacity="0.55"/>
<circle cx="269.8" cy="156.5" r="1.2" fill="#9c3038" opacity="0.55"/>
<circle cx="265.3" cy="159.5" r="1.7" fill="#b83840" opacity="0.55"/>
<circle cx="275.4" cy="158.8" r="1.5" fill="#e0b0a8" opacity="0.55"/>
<circle cx="265.5" cy="154.8" r="1.2" fill="#8a2430" opacity="0.55"/>
<circle cx="272.9" cy="167.8" r="1.1" fill="#dca098" opacity="0.55"/>
<circle cx="264.1" cy="160.1" r="1.9" fill="#7a1c28" opacity="0.55"/>
<circle cx="268.1" cy="160.9" r="1.6" fill="#d88080" opacity="0.55"/>
<circle cx="267.1" cy="165.9" r="1.1" fill="#8a2430" opacity="0.55"/>
<circle cx="272.4" cy="157.1" r="1.2" fill="#8a2430" opacity="0.55"/>
<circle cx="271.9" cy="159.1" r="1.0" fill="#9c3038" opacity="0.55"/>
<circle cx="265.9" cy="154.9" r="0.8" fill="#d06a6c" opacity="0.55"/>
<circle cx="269.0" cy="162.7" r="1.5" fill="#e0b0a8" opacity="0.55"/>
<circle cx="276.6" cy="163.6" r="1.0" fill="#d88080" opacity="0.55"/>
<circle cx="266.2" cy="164.0" r="1.7" fill="#c89898" opacity="0.55"/>
<circle cx="273.0" cy="155.5" r="1.1" fill="#e0b0a8" opacity="0.55"/>
<circle cx="270.4" cy="167.7" r="1.4" fill="#dca098" opacity="0.55"/>
<circle cx="268.2" cy="165.3" r="1.9" fill="#d06a6c" opacity="0.55"/>
<circle cx="268.5" cy="166.9" r="1.2" fill="#d88080" opacity="0.55"/>
</g></g>
<ellipse cx="296.5" cy="160.8" rx="9.299999999999999" ry="9.1" fill="#eed4d4" opacity="0.9" filter="url(#b2)"/>
<clipPath id="tc2"><ellipse cx="296.5" cy="160.8" rx="7.6" ry="7.4"/></clipPath>
<g filter="url(#b1)"><g clip-path="url(#tc2)">
<ellipse cx="296.5" cy="160.8" rx="7.6" ry="7.4" fill="#cc4448"/>
<ellipse cx="296.5" cy="160.8" rx="7.6" ry="7.4" fill="none" stroke="#8a2430" stroke-width="2.2" opacity="0.55"/>
<circle cx="295.8" cy="162.7" r="1.9" fill="#e0a098" opacity="0.55"/>
<circle cx="297.3" cy="163.1" r="1.4" fill="#b02830" opacity="0.55"/>
<circle cx="295.9" cy="163.0" r="1.0" fill="#982030" opacity="0.55"/>
<circle cx="292.1" cy="166.7" r="1.9" fill="#b02830" opacity="0.55"/>
<circle cx="297.1" cy="165.1" r="1.1" fill="#982030" opacity="0.55"/>
<circle cx="294.2" cy="154.6" r="1.3" fill="#e0a098" opacity="0.55"/>
<circle cx="300.6" cy="160.6" r="0.8" fill="#982030" opacity="0.55"/>
<circle cx="295.4" cy="153.9" r="1.4" fill="#d86a68" opacity="0.55"/>
<circle cx="296.1" cy="168.2" r="1.9" fill="#e0a098" opacity="0.55"/>
<circle cx="303.3" cy="160.7" r="1.9" fill="#982030" opacity="0.55"/>
<circle cx="300.4" cy="159.9" r="1.4" fill="#d86a68" opacity="0.55"/>
<circle cx="296.8" cy="165.9" r="1.4" fill="#b02830" opacity="0.55"/>
<circle cx="299.1" cy="167.5" r="1.8" fill="#d86a68" opacity="0.55"/>
<circle cx="293.5" cy="155.5" r="1.4" fill="#b02830" opacity="0.55"/>
<circle cx="297.6" cy="156.4" r="1.4" fill="#982030" opacity="0.55"/>
<circle cx="298.1" cy="153.8" r="1.9" fill="#e0a098" opacity="0.55"/>
<circle cx="297.2" cy="168.0" r="0.9" fill="#982030" opacity="0.55"/>
<circle cx="299.4" cy="154.4" r="1.4" fill="#e0a098" opacity="0.55"/>
<circle cx="302.9" cy="165.2" r="1.2" fill="#d86a68" opacity="0.55"/>
<circle cx="296.1" cy="155.3" r="1.3" fill="#e0a098" opacity="0.55"/>
<circle cx="296.9" cy="155.0" r="1.3" fill="#982030" opacity="0.55"/>
<circle cx="303.0" cy="155.3" r="1.7" fill="#982030" opacity="0.55"/>
<circle cx="289.4" cy="155.7" r="0.8" fill="#b02830" opacity="0.55"/>
<circle cx="293.8" cy="158.7" r="1.5" fill="#982030" opacity="0.55"/>
<circle cx="296.5" cy="162.0" r="1.8" fill="#b02830" opacity="0.55"/>
<circle cx="299.8" cy="163.8" r="1.8" fill="#982030" opacity="0.55"/>
</g></g>
<ellipse cx="321.8" cy="161.6" rx="8.1" ry="6.3" fill="#eed4d4" opacity="0.9" filter="url(#b2)"/>
<clipPath id="tc3"><ellipse cx="321.8" cy="161.6" rx="6.4" ry="4.6"/></clipPath>
<g filter="url(#b1)"><g clip-path="url(#tc3)">
<ellipse cx="321.8" cy="161.6" rx="6.4" ry="4.6" fill="#d27a62"/>
<circle cx="320.2" cy="160.8" r="1.1" fill="#c06458" opacity="0.55"/>
<circle cx="322.3" cy="164.9" r="1.1" fill="#c06458" opacity="0.55"/>
<circle cx="322.2" cy="164.8" r="1.2" fill="#c06458" opacity="0.55"/>
<circle cx="318.4" cy="163.8" r="1.4" fill="#c06458" opacity="0.55"/>
<circle cx="319.4" cy="159.9" r="1.5" fill="#c06458" opacity="0.55"/>
<circle cx="325.4" cy="158.8" r="0.7" fill="#c06458" opacity="0.55"/>
<circle cx="317.1" cy="157.8" r="1.0" fill="#d08070" opacity="0.55"/>
<circle cx="326.1" cy="160.9" r="1.4" fill="#c06458" opacity="0.55"/>
<circle cx="318.0" cy="162.8" r="1.4" fill="#e8b4aa" opacity="0.55"/>
<circle cx="318.0" cy="163.3" r="1.5" fill="#f0c8bc" opacity="0.55"/>
<circle cx="316.9" cy="161.7" r="1.4" fill="#c06458" opacity="0.55"/>
<circle cx="325.7" cy="161.4" r="0.6" fill="#d08070" opacity="0.55"/>
<circle cx="317.3" cy="158.7" r="0.8" fill="#c06458" opacity="0.55"/>
<circle cx="328.1" cy="165.5" r="0.7" fill="#e8b4aa" opacity="0.55"/>
<circle cx="317.1" cy="163.3" r="0.7" fill="#e8b4aa" opacity="0.55"/>
<circle cx="319.6" cy="161.3" r="1.1" fill="#d08070" opacity="0.55"/>
<circle cx="318.1" cy="160.4" r="1.2" fill="#e8b4aa" opacity="0.55"/>
</g></g>
<ellipse cx="233.4" cy="192.8" rx="9.7" ry="6.4" fill="#eed4d4" opacity="0.9" filter="url(#b2)"/>
<clipPath id="tc4"><ellipse cx="233.4" cy="192.8" rx="8.0" ry="4.7"/></clipPath>
<g filter="url(#b1)"><g clip-path="url(#tc4)">
<ellipse cx="233.4" cy="192.8" rx="8.0" ry="4.7" fill="#c8686c"/>
<ellipse cx="233.4" cy="192.8" rx="8.0" ry="4.7" fill="none" stroke="#8a2430" stroke-width="2.2" opacity="0.55"/>
<circle cx="238.9" cy="189.8" r="1.1" fill="#e0b0a8" opacity="0.55"/>
<circle cx="231.9" cy="189.9" r="0.8" fill="#c89898" opacity="0.55"/>
<circle cx="238.1" cy="191.1" r="0.7" fill="#7a1c28" opacity="0.55"/>
<circle cx="234.5" cy="189.9" r="1.2" fill="#e0b0a8" opacity="0.55"/>
<circle cx="238.3" cy="190.5" r="1.5" fill="#dca098" opacity="0.55"/>
<circle cx="238.4" cy="191.9" r="1.5" fill="#c89898" opacity="0.55"/>
<circle cx="236.5" cy="195.3" r="1.4" fill="#7a1c28" opacity="0.55"/>
<circle cx="228.7" cy="189.8" r="1.4" fill="#9c3038" opacity="0.55"/>
<circle cx="232.9" cy="188.2" r="1.0" fill="#8a2430" opacity="0.55"/>
<circle cx="229.1" cy="197.0" r="1.3" fill="#e0b0a8" opacity="0.55"/>
<circle cx="228.9" cy="191.9" r="0.8" fill="#d06a6c" opacity="0.55"/>
<circle cx="231.6" cy="197.5" r="1.2" fill="#d06a6c" opacity="0.55"/>
<circle cx="237.6" cy="197.3" r="0.6" fill="#d06a6c" opacity="0.55"/>
<circle cx="237.2" cy="190.5" r="1.0" fill="#8a2430" opacity="0.55"/>
<circle cx="237.6" cy="194.2" r="0.6" fill="#9c3038" opacity="0.55"/>
<circle cx="229.4" cy="196.6" r="1.2" fill="#c89898" opacity="0.55"/>
<circle cx="232.1" cy="193.0" r="1.4" fill="#d06a6c" opacity="0.55"/>
<circle cx="235.6" cy="195.7" r="0.7" fill="#8a2430" opacity="0.55"/>
<circle cx="231.6" cy="196.9" r="1.0" fill="#dca098" opacity="0.55"/>
<circle cx="239.1" cy="193.2" r="1.2" fill="#7a1c28" opacity="0.55"/>
</g></g>
<ellipse cx="238.5" cy="184.0" rx="11.7" ry="10.299999999999999" fill="#eed4d4" opacity="0.9" filter="url(#b2)"/>
<clipPath id="tc5"><ellipse cx="238.5" cy="184.0" rx="10.0" ry="8.6"/></clipPath>
<g filter="url(#b1)"><g clip-path="url(#tc5)">
<ellipse cx="238.5" cy="184.0" rx="10.0" ry="8.6" fill="#b03c46"/>
<ellipse cx="238.5" cy="184.0" rx="10.0" ry="8.6" fill="none" stroke="#8a2430" stroke-width="2.2" opacity="0.55"/>
<circle cx="247.4" cy="182.6" r="1.6" fill="#9c3038" opacity="0.55"/>
<circle cx="235.8" cy="180.3" r="1.8" fill="#c89898" opacity="0.55"/>
<circle cx="247.1" cy="186.8" r="1.9" fill="#8a2430" opacity="0.55"/>
<circle cx="228.8" cy="179.6" r="0.9" fill="#dca098" opacity="0.55"/>
<circle cx="236.7" cy="187.2" r="0.9" fill="#e0b0a8" opacity="0.55"/>
<circle cx="243.5" cy="176.3" r="2.3" fill="#e0b0a8" opacity="0.55"/>
<circle cx="230.0" cy="191.0" r="1.5" fill="#d88080" opacity="0.55"/>
<circle cx="233.5" cy="188.4" r="0.9" fill="#d06a6c" opacity="0.55"/>
<circle cx="247.2" cy="187.8" r="1.5" fill="#b83840" opacity="0.55"/>
<circle cx="240.6" cy="177.4" r="1.8" fill="#d88080" opacity="0.55"/>
<circle cx="230.9" cy="190.2" r="1.4" fill="#dca098" opacity="0.55"/>
<circle cx="231.0" cy="183.0" r="1.8" fill="#d88080" opacity="0.55"/>
<circle cx="240.5" cy="186.4" r="1.8" fill="#e0b0a8" opacity="0.55"/>
<circle cx="244.1" cy="184.5" r="2.3" fill="#9c3038" opacity="0.55"/>
<circle cx="243.2" cy="179.5" r="1.0" fill="#9c3038" opacity="0.55"/>
<circle cx="244.2" cy="186.1" r="1.4" fill="#9c3038" opacity="0.55"/>
<circle cx="240.7" cy="187.9" r="1.9" fill="#b83840" opacity="0.55"/>
<circle cx="241.2" cy="188.4" r="1.1" fill="#b83840" opacity="0.55"/>
<circle cx="238.5" cy="186.6" r="1.1" fill="#8a2430" opacity="0.55"/>
<circle cx="241.1" cy="175.6" r="1.2" fill="#8a2430" opacity="0.55"/>
<circle cx="241.0" cy="177.2" r="1.6" fill="#d06a6c" opacity="0.55"/>
<circle cx="243.6" cy="191.1" r="1.1" fill="#b83840" opacity="0.55"/>
<circle cx="241.1" cy="181.8" r="1.5" fill="#b83840" opacity="0.55"/>
<circle cx="235.3" cy="183.9" r="1.1" fill="#d06a6c" opacity="0.55"/>
<circle cx="244.5" cy="183.1" r="2.0" fill="#b83840" opacity="0.55"/>
<circle cx="237.4" cy="188.3" r="1.4" fill="#dca098" opacity="0.55"/>
<circle cx="235.9" cy="186.6" r="2.3" fill="#e0b0a8" opacity="0.55"/>
<circle cx="234.3" cy="188.5" r="2.0" fill="#dca098" opacity="0.55"/>
<circle cx="237.1" cy="181.8" r="1.0" fill="#e0b0a8" opacity="0.55"/>
<circle cx="230.1" cy="176.8" r="1.7" fill="#d88080" opacity="0.55"/>
<circle cx="244.8" cy="183.4" r="2.0" fill="#8a2430" opacity="0.55"/>
<circle cx="230.0" cy="179.1" r="1.8" fill="#d06a6c" opacity="0.55"/>
<circle cx="242.4" cy="183.9" r="2.0" fill="#e0b0a8" opacity="0.55"/>
<circle cx="234.2" cy="177.9" r="1.4" fill="#e0b0a8" opacity="0.55"/>
<circle cx="235.8" cy="177.4" r="1.9" fill="#9c3038" opacity="0.55"/>
<circle cx="237.3" cy="189.2" r="1.3" fill="#e0b0a8" opacity="0.55"/>
</g></g>
<ellipse cx="272.6" cy="188.8" rx="11.1" ry="9.799999999999999" fill="#eed4d4" opacity="0.9" filter="url(#b2)"/>
<clipPath id="tc6"><ellipse cx="272.6" cy="188.8" rx="9.4" ry="8.1"/></clipPath>
<g filter="url(#b1)"><g clip-path="url(#tc6)">
<ellipse cx="272.6" cy="188.8" rx="9.4" ry="8.1" fill="#b83a44"/>
<ellipse cx="272.6" cy="188.8" rx="9.4" ry="8.1" fill="none" stroke="#8a2430" stroke-width="2.2" opacity="0.55"/>
<circle cx="267.4" cy="196.4" r="1.8" fill="#c89898" opacity="0.55"/>
<circle cx="267.9" cy="186.6" r="1.3" fill="#e0b0a8" opacity="0.55"/>
<circle cx="275.9" cy="190.2" r="1.9" fill="#e0b0a8" opacity="0.55"/>
<circle cx="278.2" cy="189.5" r="1.9" fill="#dca098" opacity="0.55"/>
<circle cx="266.5" cy="193.0" r="2.0" fill="#9c3038" opacity="0.55"/>
<circle cx="278.5" cy="184.3" r="0.9" fill="#dca098" opacity="0.55"/>
<circle cx="273.9" cy="196.4" r="1.7" fill="#7a1c28" opacity="0.55"/>
<circle cx="264.4" cy="189.6" r="1.9" fill="#d06a6c" opacity="0.55"/>
<circle cx="269.5" cy="185.1" r="1.0" fill="#e0b0a8" opacity="0.55"/>
<circle cx="264.8" cy="191.0" r="1.0" fill="#7a1c28" opacity="0.55"/>
<circle cx="267.8" cy="184.3" r="1.8" fill="#c89898" opacity="0.55"/>
<circle cx="269.6" cy="188.1" r="1.3" fill="#e0b0a8" opacity="0.55"/>
<circle cx="275.8" cy="188.7" r="1.5" fill="#d06a6c" opacity="0.55"/>
<circle cx="276.5" cy="195.5" r="1.4" fill="#e0b0a8" opacity="0.55"/>
<circle cx="279.2" cy="193.8" r="1.9" fill="#d88080" opacity="0.55"/>
<circle cx="281.2" cy="191.1" r="1.5" fill="#8a2430" opacity="0.55"/>
<circle cx="278.3" cy="187.5" r="1.4" fill="#dca098" opacity="0.55"/>
<circle cx="267.8" cy="183.3" r="1.7" fill="#dca098" opacity="0.55"/>
<circle cx="269.2" cy="187.0" r="1.5" fill="#9c3038" opacity="0.55"/>
<circle cx="281.4" cy="181.7" r="1.2" fill="#d06a6c" opacity="0.55"/>
<circle cx="268.9" cy="183.2" r="2.1" fill="#8a2430" opacity="0.55"/>
<circle cx="277.4" cy="181.0" r="1.5" fill="#8a2430" opacity="0.55"/>
<circle cx="269.1" cy="183.9" r="1.3" fill="#b83840" opacity="0.55"/>
<circle cx="274.5" cy="188.3" r="1.5" fill="#d88080" opacity="0.55"/>
<circle cx="266.7" cy="185.3" r="1.0" fill="#9c3038" opacity="0.55"/>
<circle cx="275.0" cy="196.0" r="1.6" fill="#9c3038" opacity="0.55"/>
<circle cx="272.3" cy="187.2" r="2.1" fill="#c89898" opacity="0.55"/>
<circle cx="277.7" cy="182.2" r="2.0" fill="#7a1c28" opacity="0.55"/>
<circle cx="264.1" cy="196.0" r="1.9" fill="#7a1c28" opacity="0.55"/>
<circle cx="281.5" cy="193.6" r="1.9" fill="#8a2430" opacity="0.55"/>
<circle cx="275.6" cy="184.5" r="0.8" fill="#d88080" opacity="0.55"/>
<circle cx="280.2" cy="188.0" r="1.1" fill="#7a1c28" opacity="0.55"/>
<circle cx="274.6" cy="183.2" r="1.0" fill="#e0b0a8" opacity="0.55"/>
</g></g>
<ellipse cx="300.3" cy="187.1" rx="8.1" ry="7.0" fill="#eed4d4" opacity="0.9" filter="url(#b2)"/>
<clipPath id="tc7"><ellipse cx="300.3" cy="187.1" rx="6.4" ry="5.3"/></clipPath>
<g filter="url(#b1)"><g clip-path="url(#tc7)">
<ellipse cx="300.3" cy="187.1" rx="6.4" ry="5.3" fill="#b83a44"/>
<ellipse cx="300.3" cy="187.1" rx="6.4" ry="5.3" fill="none" stroke="#8a2430" stroke-width="2.2" opacity="0.55"/>
<circle cx="295.8" cy="191.4" r="1.4" fill="#d86a68" opacity="0.55"/>
<circle cx="302.1" cy="192.3" r="0.9" fill="#982030" opacity="0.55"/>
<circle cx="295.8" cy="190.0" r="0.6" fill="#d86a68" opacity="0.55"/>
<circle cx="304.4" cy="182.7" r="0.9" fill="#982030" opacity="0.55"/>
<circle cx="305.3" cy="189.2" r="0.7" fill="#b02830" opacity="0.55"/>
<circle cx="294.1" cy="183.8" r="0.8" fill="#982030" opacity="0.55"/>
<circle cx="303.9" cy="186.5" r="0.6" fill="#e0a098" opacity="0.55"/>
<circle cx="300.6" cy="183.5" r="1.4" fill="#b02830" opacity="0.55"/>
<circle cx="297.9" cy="186.1" r="1.2" fill="#e0a098" opacity="0.55"/>
<circle cx="302.4" cy="182.5" r="0.7" fill="#d86a68" opacity="0.55"/>
<circle cx="295.3" cy="186.0" r="1.1" fill="#982030" opacity="0.55"/>
<circle cx="302.3" cy="181.9" r="1.0" fill="#e0a098" opacity="0.55"/>
<circle cx="296.9" cy="187.8" r="1.1" fill="#982030" opacity="0.55"/>
<circle cx="304.9" cy="190.8" r="1.3" fill="#d86a68" opacity="0.55"/>
<circle cx="297.6" cy="185.8" r="1.1" fill="#b02830" opacity="0.55"/>
<circle cx="306.1" cy="189.8" r="1.2" fill="#982030" opacity="0.55"/>
<circle cx="297.2" cy="183.9" r="1.3" fill="#b02830" opacity="0.55"/>
<circle cx="297.9" cy="184.7" r="1.1" fill="#b02830" opacity="0.55"/>
<circle cx="299.6" cy="185.9" r="0.7" fill="#982030" opacity="0.55"/>
</g></g>
<ellipse cx="324.8" cy="183.7" rx="6.5" ry="6.3" fill="#eed4d4" opacity="0.9" filter="url(#b2)"/>
<clipPath id="tc8"><ellipse cx="324.8" cy="183.7" rx="4.8" ry="4.6"/></clipPath>
<g filter="url(#b1)"><g clip-path="url(#tc8)">
<ellipse cx="324.8" cy="183.7" rx="4.8" ry="4.6" fill="#e09c88"/>
<circle cx="321.3" cy="184.9" r="0.8" fill="#c06458" opacity="0.55"/>
<circle cx="323.9" cy="186.8" r="1.2" fill="#e8b4aa" opacity="0.55"/>
<circle cx="321.0" cy="179.4" r="1.6" fill="#d08070" opacity="0.55"/>
<circle cx="323.9" cy="179.8" r="1.5" fill="#d08070" opacity="0.55"/>
<circle cx="328.9" cy="180.4" r="0.8" fill="#c06458" opacity="0.55"/>
<circle cx="327.9" cy="182.7" r="0.9" fill="#d08070" opacity="0.55"/>
<circle cx="326.0" cy="185.8" r="1.2" fill="#f0c8bc" opacity="0.55"/>
<circle cx="329.4" cy="186.4" r="1.3" fill="#e8b4aa" opacity="0.55"/>
<circle cx="322.5" cy="180.8" r="0.9" fill="#d08070" opacity="0.55"/>
<circle cx="321.0" cy="182.6" r="1.1" fill="#f0c8bc" opacity="0.55"/>
<circle cx="327.9" cy="184.7" r="0.8" fill="#f0c8bc" opacity="0.55"/>
<circle cx="325.3" cy="182.3" r="1.1" fill="#c06458" opacity="0.55"/>
<circle cx="325.5" cy="180.9" r="1.5" fill="#c06458" opacity="0.55"/>
<circle cx="325.4" cy="179.3" r="1.3" fill="#e8b4aa" opacity="0.55"/>
<circle cx="321.3" cy="183.5" r="1.0" fill="#f0c8bc" opacity="0.55"/>
</g></g>
<ellipse cx="236.4" cy="217.0" rx="14.0" ry="14.0" fill="#eed4d4" opacity="0.9" filter="url(#b2)"/>
<clipPath id="tc9"><ellipse cx="236.4" cy="217.0" rx="12.3" ry="12.3"/></clipPath>
<g filter="url(#b1)"><g clip-path="url(#tc9)">
<ellipse cx="236.4" cy="217.0" rx="12.3" ry="12.3" fill="#a83c46"/>
<ellipse cx="236.4" cy="217.0" rx="12.3" ry="12.3" fill="none" stroke="#8a2430" stroke-width="2.2" opacity="0.55"/>
<circle cx="232.2" cy="227.6" r="2.0" fill="#d88080" opacity="0.55"/>
<circle cx="245.8" cy="215.8" r="2.7" fill="#b83840" opacity="0.55"/>
<circle cx="246.3" cy="218.1" r="2.4" fill="#c89898" opacity="0.55"/>
<circle cx="246.6" cy="208.8" r="2.8" fill="#e0b0a8" opacity="0.55"/>
<circle cx="238.9" cy="207.7" r="2.9" fill="#9c3038" opacity="0.55"/>
<circle cx="241.0" cy="213.6" r="2.8" fill="#e0b0a8" opacity="0.55"/>
<circle cx="244.5" cy="209.3" r="2.4" fill="#d06a6c" opacity="0.55"/>
<circle cx="235.3" cy="214.6" r="2.8" fill="#dca098" opacity="0.55"/>
<circle cx="231.7" cy="221.2" r="2.7" fill="#7a1c28" opacity="0.55"/>
<circle cx="239.2" cy="220.5" r="2.8" fill="#dca098" opacity="0.55"/>
<circle cx="229.0" cy="216.2" r="1.5" fill="#7a1c28" opacity="0.55"/>
<circle cx="227.0" cy="214.7" r="1.9" fill="#dca098" opacity="0.55"/>
<circle cx="230.6" cy="218.7" r="1.9" fill="#8a2430" opacity="0.55"/>
<circle cx="241.9" cy="224.1" r="2.1" fill="#d88080" opacity="0.55"/>
<circle cx="238.9" cy="216.3" r="2.1" fill="#7a1c28" opacity="0.55"/>
<circle cx="242.6" cy="216.7" r="3.3" fill="#7a1c28" opacity="0.55"/>
<circle cx="244.4" cy="207.6" r="1.5" fill="#c89898" opacity="0.55"/>
<circle cx="232.2" cy="217.5" r="2.1" fill="#8a2430" opacity="0.55"/>
<circle cx="232.0" cy="206.0" r="2.7" fill="#7a1c28" opacity="0.55"/>
<circle cx="242.1" cy="219.4" r="2.8" fill="#9c3038" opacity="0.55"/>
<circle cx="245.8" cy="226.3" r="1.7" fill="#d88080" opacity="0.55"/>
<circle cx="230.1" cy="226.2" r="3.2" fill="#d88080" opacity="0.55"/>
<circle cx="241.2" cy="217.6" r="1.7" fill="#9c3038" opacity="0.55"/>
<circle cx="240.3" cy="227.8" r="3.0" fill="#e0b0a8" opacity="0.55"/>
<circle cx="245.4" cy="215.1" r="2.9" fill="#b83840" opacity="0.55"/>
<circle cx="240.1" cy="215.1" r="1.5" fill="#d06a6c" opacity="0.55"/>
<circle cx="226.5" cy="224.2" r="1.5" fill="#c89898" opacity="0.55"/>
<circle cx="238.3" cy="215.8" r="1.8" fill="#9c3038" opacity="0.55"/>
<circle cx="224.7" cy="208.9" r="2.1" fill="#d88080" opacity="0.55"/>
<circle cx="244.2" cy="214.5" r="2.0" fill="#b83840" opacity="0.55"/>
<circle cx="225.2" cy="205.5" r="3.1" fill="#9c3038" opacity="0.55"/>
<circle cx="232.1" cy="208.2" r="2.8" fill="#d88080" opacity="0.55"/>
<circle cx="245.7" cy="209.7" r="3.0" fill="#8a2430" opacity="0.55"/>
<circle cx="228.9" cy="225.3" r="2.0" fill="#d88080" opacity="0.55"/>
<circle cx="224.5" cy="220.3" r="2.7" fill="#c89898" opacity="0.55"/>
<circle cx="229.1" cy="220.3" r="1.6" fill="#8a2430" opacity="0.55"/>
<circle cx="240.1" cy="212.2" r="2.9" fill="#9c3038" opacity="0.55"/>
<circle cx="245.5" cy="222.2" r="1.5" fill="#d88080" opacity="0.55"/>
<circle cx="234.3" cy="208.9" r="3.0" fill="#d06a6c" opacity="0.55"/>
<circle cx="241.6" cy="209.5" r="1.6" fill="#b83840" opacity="0.55"/>
<circle cx="236.4" cy="212.0" r="1.8" fill="#c89898" opacity="0.55"/>
<circle cx="245.9" cy="219.2" r="1.7" fill="#9c3038" opacity="0.55"/>
<circle cx="246.1" cy="209.1" r="1.7" fill="#dca098" opacity="0.55"/>
<circle cx="239.8" cy="206.9" r="3.2" fill="#d88080" opacity="0.55"/>
<circle cx="246.7" cy="206.5" r="3.1" fill="#8a2430" opacity="0.55"/>
<circle cx="238.9" cy="211.7" r="1.7" fill="#d06a6c" opacity="0.55"/>
<circle cx="228.1" cy="229.0" r="1.6" fill="#dca098" opacity="0.55"/>
<circle cx="231.0" cy="218.2" r="1.6" fill="#dca098" opacity="0.55"/>
<circle cx="248.4" cy="205.5" r="2.2" fill="#7a1c28" opacity="0.55"/>
<circle cx="224.2" cy="226.6" r="1.4" fill="#d06a6c" opacity="0.55"/>
<circle cx="237.8" cy="220.6" r="2.0" fill="#d88080" opacity="0.55"/>
<circle cx="243.4" cy="217.4" r="2.3" fill="#c89898" opacity="0.55"/>
<circle cx="242.4" cy="217.8" r="2.4" fill="#dca098" opacity="0.55"/>
<circle cx="226.9" cy="215.4" r="2.6" fill="#c89898" opacity="0.55"/>
<circle cx="243.1" cy="224.0" r="2.9" fill="#b83840" opacity="0.55"/>
<circle cx="230.5" cy="218.1" r="3.0" fill="#d88080" opacity="0.55"/>
<circle cx="230.5" cy="209.7" r="3.2" fill="#8a2430" opacity="0.55"/>
<circle cx="238.2" cy="226.2" r="1.6" fill="#dca098" opacity="0.55"/>
</g></g>
<ellipse cx="273.6" cy="214.7" rx="10.799999999999999" ry="7.6000000000000005" fill="#eed4d4" opacity="0.9" filter="url(#b2)"/>
<clipPath id="tc10"><ellipse cx="273.6" cy="214.7" rx="9.1" ry="5.9"/></clipPath>
<g filter="url(#b1)"><g clip-path="url(#tc10)">
<ellipse cx="273.6" cy="214.7" rx="9.1" ry="5.9" fill="#d0707a"/>
<circle cx="275.6" cy="216.0" r="1.4" fill="#d08070" opacity="0.55"/>
<circle cx="277.7" cy="218.9" r="0.6" fill="#e8b4aa" opacity="0.55"/>
<circle cx="281.0" cy="215.5" r="1.1" fill="#c06458" opacity="0.55"/>
<circle cx="275.8" cy="209.4" r="1.0" fill="#f0c8bc" opacity="0.55"/>
<circle cx="279.4" cy="217.5" r="1.4" fill="#d08070" opacity="0.55"/>
<circle cx="266.1" cy="218.5" r="0.8" fill="#f0c8bc" opacity="0.55"/>
<circle cx="269.0" cy="214.7" r="1.3" fill="#d08070" opacity="0.55"/>
<circle cx="265.6" cy="213.6" r="1.0" fill="#c06458" opacity="0.55"/>
<circle cx="277.3" cy="220.1" r="0.7" fill="#c06458" opacity="0.55"/>
<circle cx="267.1" cy="214.2" r="1.3" fill="#e8b4aa" opacity="0.55"/>
<circle cx="264.6" cy="213.6" r="1.1" fill="#e8b4aa" opacity="0.55"/>
<circle cx="271.7" cy="212.3" r="1.0" fill="#e8b4aa" opacity="0.55"/>
<circle cx="282.2" cy="216.8" r="1.3" fill="#c06458" opacity="0.55"/>
<circle cx="269.9" cy="210.2" r="1.5" fill="#d08070" opacity="0.55"/>
<circle cx="272.9" cy="219.8" r="1.0" fill="#f0c8bc" opacity="0.55"/>
<circle cx="281.7" cy="219.7" r="0.8" fill="#c06458" opacity="0.55"/>
<circle cx="271.8" cy="216.5" r="0.7" fill="#f0c8bc" opacity="0.55"/>
<circle cx="274.8" cy="219.6" r="1.5" fill="#c06458" opacity="0.55"/>
<circle cx="272.9" cy="213.4" r="1.4" fill="#d08070" opacity="0.55"/>
<circle cx="271.4" cy="209.4" r="1.0" fill="#c06458" opacity="0.55"/>
<circle cx="267.8" cy="215.3" r="0.8" fill="#c06458" opacity="0.55"/>
<circle cx="271.8" cy="215.8" r="1.4" fill="#d08070" opacity="0.55"/>
<circle cx="272.6" cy="220.5" r="1.3" fill="#d08070" opacity="0.55"/>
<circle cx="268.2" cy="213.3" r="0.7" fill="#f0c8bc" opacity="0.55"/>
<circle cx="271.1" cy="212.0" r="0.6" fill="#c06458" opacity="0.55"/>
</g></g>
<ellipse cx="302.3" cy="212.9" rx="6.5" ry="6.9" fill="#eed4d4" opacity="0.9" filter="url(#b2)"/>
<clipPath id="tc11"><ellipse cx="302.3" cy="212.9" rx="4.8" ry="5.2"/></clipPath>
<g filter="url(#b1)"><g clip-path="url(#tc11)">
<ellipse cx="302.3" cy="212.9" rx="4.8" ry="5.2" fill="#962030"/>
<ellipse cx="302.3" cy="212.9" rx="4.8" ry="5.2" fill="none" stroke="#8a2430" stroke-width="2.2" opacity="0.55"/>
<circle cx="304.6" cy="213.0" r="1.2" fill="#b83840" opacity="0.55"/>
<circle cx="300.1" cy="211.5" r="0.8" fill="#e0b0a8" opacity="0.55"/>
<circle cx="298.8" cy="210.2" r="1.4" fill="#d06a6c" opacity="0.55"/>
<circle cx="297.7" cy="211.0" r="1.0" fill="#d06a6c" opacity="0.55"/>
<circle cx="305.7" cy="211.7" r="0.9" fill="#c89898" opacity="0.55"/>
<circle cx="303.9" cy="210.8" r="1.2" fill="#d88080" opacity="0.55"/>
<circle cx="297.9" cy="209.3" r="1.2" fill="#8a2430" opacity="0.55"/>
<circle cx="299.5" cy="212.0" r="1.1" fill="#dca098" opacity="0.55"/>
<circle cx="302.5" cy="213.4" r="0.9" fill="#d88080" opacity="0.55"/>
<circle cx="303.9" cy="209.2" r="0.8" fill="#9c3038" opacity="0.55"/>
<circle cx="302.6" cy="212.4" r="0.7" fill="#c89898" opacity="0.55"/>
<circle cx="305.8" cy="210.1" r="0.9" fill="#e0b0a8" opacity="0.55"/>
<circle cx="303.4" cy="209.2" r="1.4" fill="#d88080" opacity="0.55"/>
<circle cx="302.9" cy="216.1" r="1.6" fill="#9c3038" opacity="0.55"/>
<circle cx="303.8" cy="208.4" r="1.5" fill="#c89898" opacity="0.55"/>
<circle cx="304.1" cy="214.6" r="1.6" fill="#e0b0a8" opacity="0.55"/>
</g></g>
<ellipse cx="328.7" cy="211.5" rx="6.0" ry="6.6000000000000005" fill="#eed4d4" opacity="0.9" filter="url(#b2)"/>
<clipPath id="tc12"><ellipse cx="328.7" cy="211.5" rx="4.3" ry="4.9"/></clipPath>
<g filter="url(#b1)"><g clip-path="url(#tc12)">
<ellipse cx="328.7" cy="211.5" rx="4.3" ry="4.9" fill="#e8b0a0"/>
<circle cx="326.4" cy="212.8" r="0.7" fill="#d08070" opacity="0.55"/>
<circle cx="325.4" cy="211.4" r="1.1" fill="#f0c8bc" opacity="0.55"/>
<circle cx="326.8" cy="213.5" r="0.8" fill="#d08070" opacity="0.55"/>
<circle cx="326.1" cy="214.1" r="1.0" fill="#c06458" opacity="0.55"/>
<circle cx="328.9" cy="213.9" r="1.5" fill="#c06458" opacity="0.55"/>
<circle cx="328.5" cy="209.1" r="1.5" fill="#f0c8bc" opacity="0.55"/>
<circle cx="330.4" cy="206.8" r="1.0" fill="#f0c8bc" opacity="0.55"/>
<circle cx="332.2" cy="215.5" r="0.9" fill="#d08070" opacity="0.55"/>
<circle cx="328.7" cy="212.3" r="1.1" fill="#f0c8bc" opacity="0.55"/>
<circle cx="332.0" cy="207.3" r="0.6" fill="#f0c8bc" opacity="0.55"/>
<circle cx="332.1" cy="212.1" r="0.9" fill="#c06458" opacity="0.55"/>
<circle cx="329.9" cy="210.4" r="0.9" fill="#f0c8bc" opacity="0.55"/>
<circle cx="324.7" cy="213.5" r="0.8" fill="#e8b4aa" opacity="0.55"/>
<circle cx="329.8" cy="212.7" r="1.0" fill="#d08070" opacity="0.55"/>
<circle cx="324.9" cy="207.3" r="1.1" fill="#d08070" opacity="0.55"/>
</g></g>
<ellipse cx="240.0" cy="157.0" rx="2.2" ry="5.5" fill="#d8b8c0" opacity="0.55" filter="url(#b2)"/>
<ellipse cx="236.0" cy="215.0" rx="3.0" ry="5.0" fill="#d0b0b8" opacity="0.45" filter="url(#b2)"/>
<ellipse cx="240.5" cy="183.5" rx="2.5" ry="3.5" fill="#d0a0a8" opacity="0.4" filter="url(#b2)"/>
<ellipse cx="272.0" cy="159.0" rx="2.0" ry="3.0" fill="#d89aa0" opacity="0.4" filter="url(#b2)"/>
<ellipse cx="274.0" cy="188.0" rx="2.5" ry="3.0" fill="#d8a0a8" opacity="0.4" filter="url(#b2)"/>
<text x="227.8" y="240.4" font-size="5.8" font-weight="normal" text-anchor="start" fill="#111" textLength="18.2" lengthAdjust="spacing" stroke="#111" stroke-width="0.22">Control</text>
<text x="262.8" y="240.4" font-size="5.8" font-weight="normal" text-anchor="start" fill="#111" textLength="19.4" lengthAdjust="spacing" stroke="#111" stroke-width="0.22">5 mg/kg</text>
<text x="291.7" y="240.4" font-size="5.8" font-weight="normal" text-anchor="start" fill="#111" textLength="22.5" lengthAdjust="spacing" stroke="#111" stroke-width="0.22">10 mg/kg</text>
<text x="318.9" y="240.4" font-size="5.8" font-weight="normal" text-anchor="start" fill="#111" textLength="21.8" lengthAdjust="spacing" stroke="#111" stroke-width="0.22">15 mg/kg</text>
<text x="414.2" y="26.5" font-size="8" font-weight="normal" text-anchor="middle" fill="#000" >Control</text>
<text x="459.1" y="26.5" font-size="8" font-weight="normal" text-anchor="middle" fill="#000" >G9</text>
<text x="398.8" y="37.7" font-size="8.5" font-weight="normal" text-anchor="middle" fill="#000" >1</text>
<text x="413.8" y="37.7" font-size="8.5" font-weight="normal" text-anchor="middle" fill="#000" >2</text>
<text x="427.5" y="37.7" font-size="8.5" font-weight="normal" text-anchor="middle" fill="#000" >3</text>
<text x="443.2" y="37.7" font-size="8.5" font-weight="normal" text-anchor="middle" fill="#000" >1</text>
<text x="458.2" y="37.7" font-size="8.5" font-weight="normal" text-anchor="middle" fill="#000" >2</text>
<text x="471.8" y="37.7" font-size="8.5" font-weight="normal" text-anchor="middle" fill="#000" >3</text>
<text x="480.4" y="37.7" font-size="8.5" font-weight="normal" text-anchor="start" fill="#000" >Mouse #</text>
<rect x="392.0" y="39.3" width="43.3" height="96.6" fill="#e0e0e0"/>
<rect x="437.6" y="39.3" width="42.0" height="96.6" fill="#e0e0e0"/>
<rect x="392.0" y="138.9" width="43.3" height="10.9" fill="#e0e0e0"/>
<rect x="437.6" y="138.9" width="42.0" height="10.9" fill="#e0e0e0"/>
<rect x="392.0" y="152.2" width="43.3" height="10.9" fill="#e0e0e0"/>
<rect x="437.6" y="152.2" width="42.0" height="10.9" fill="#e0e0e0"/>
<rect x="392.0" y="165.5" width="43.3" height="10.8" fill="#e0e0e0"/>
<rect x="437.6" y="165.5" width="42.0" height="10.8" fill="#e0e0e0"/>
<rect x="392.0" y="178.8" width="43.3" height="23.2" fill="#e0e0e0"/>
<rect x="437.6" y="178.8" width="42.0" height="23.2" fill="#e0e0e0"/>
<rect x="392.0" y="205.2" width="43.3" height="9.6" fill="#e0e0e0"/>
<rect x="437.6" y="205.2" width="42.0" height="9.6" fill="#e0e0e0"/>
<rect x="406.0" y="39.3" width="1.6" height="96.6" fill="#e6e6e6" filter="url(#b3)"/>
<rect x="406.0" y="138.9" width="1.6" height="10.9" fill="#e6e6e6" filter="url(#b3)"/>
<rect x="406.0" y="152.2" width="1.6" height="10.9" fill="#e6e6e6" filter="url(#b3)"/>
<rect x="406.0" y="165.5" width="1.6" height="10.8" fill="#e6e6e6" filter="url(#b3)"/>
<rect x="406.0" y="178.8" width="1.6" height="23.2" fill="#e6e6e6" filter="url(#b3)"/>
<rect x="406.0" y="205.2" width="1.6" height="9.6" fill="#e6e6e6" filter="url(#b3)"/>
<rect x="420.8" y="39.3" width="1.6" height="96.6" fill="#e6e6e6" filter="url(#b3)"/>
<rect x="420.8" y="138.9" width="1.6" height="10.9" fill="#e6e6e6" filter="url(#b3)"/>
<rect x="420.8" y="152.2" width="1.6" height="10.9" fill="#e6e6e6" filter="url(#b3)"/>
<rect x="420.8" y="165.5" width="1.6" height="10.8" fill="#e6e6e6" filter="url(#b3)"/>
<rect x="420.8" y="178.8" width="1.6" height="23.2" fill="#e6e6e6" filter="url(#b3)"/>
<rect x="420.8" y="205.2" width="1.6" height="9.6" fill="#e6e6e6" filter="url(#b3)"/>
<rect x="450.1" y="39.3" width="1.6" height="96.6" fill="#e6e6e6" filter="url(#b3)"/>
<rect x="450.1" y="138.9" width="1.6" height="10.9" fill="#e6e6e6" filter="url(#b3)"/>
<rect x="450.1" y="152.2" width="1.6" height="10.9" fill="#e6e6e6" filter="url(#b3)"/>
<rect x="450.1" y="165.5" width="1.6" height="10.8" fill="#e6e6e6" filter="url(#b3)"/>
<rect x="450.1" y="178.8" width="1.6" height="23.2" fill="#e6e6e6" filter="url(#b3)"/>
<rect x="450.1" y="205.2" width="1.6" height="9.6" fill="#e6e6e6" filter="url(#b3)"/>
<rect x="464.7" y="39.3" width="1.6" height="96.6" fill="#e6e6e6" filter="url(#b3)"/>
<rect x="464.7" y="138.9" width="1.6" height="10.9" fill="#e6e6e6" filter="url(#b3)"/>
<rect x="464.7" y="152.2" width="1.6" height="10.9" fill="#e6e6e6" filter="url(#b3)"/>
<rect x="464.7" y="165.5" width="1.6" height="10.8" fill="#e6e6e6" filter="url(#b3)"/>
<rect x="464.7" y="178.8" width="1.6" height="23.2" fill="#e6e6e6" filter="url(#b3)"/>
<rect x="464.7" y="205.2" width="1.6" height="9.6" fill="#e6e6e6" filter="url(#b3)"/>
<rect x="392.70" y="45.35" width="12.6" height="2.5" rx="1.25" fill="#000" opacity="0.950" filter="url(#b1)"/>
<rect x="407.90" y="45.35" width="12.6" height="2.5" rx="1.25" fill="#000" opacity="0.950" filter="url(#b1)"/>
<rect x="422.30" y="45.35" width="12.6" height="2.5" rx="1.25" fill="#000" opacity="0.950" filter="url(#b1)"/>
<rect x="437.30" y="45.35" width="12.6" height="2.5" rx="1.25" fill="#000" opacity="0.120" filter="url(#b1)"/>
<rect x="451.90" y="45.35" width="12.6" height="2.5" rx="1.25" fill="#000" opacity="0.120" filter="url(#b1)"/>
<rect x="466.70" y="45.35" width="12.6" height="2.5" rx="1.25" fill="#000" opacity="0.120" filter="url(#b1)"/>
<rect x="392.70" y="58.40" width="12.6" height="1.6" rx="0.8" fill="#000" opacity="0.150" filter="url(#b1)"/>
<rect x="407.90" y="58.40" width="12.6" height="1.6" rx="0.8" fill="#000" opacity="0.120" filter="url(#b1)"/>
<rect x="422.30" y="58.40" width="12.6" height="1.6" rx="0.8" fill="#000" opacity="0.200" filter="url(#b1)"/>
<rect x="437.30" y="58.40" width="12.6" height="1.6" rx="0.8" fill="#000" opacity="0.220" filter="url(#b1)"/>
<rect x="451.90" y="58.40" width="12.6" height="1.6" rx="0.8" fill="#000" opacity="0.150" filter="url(#b1)"/>
<rect x="466.70" y="58.40" width="12.6" height="1.6" rx="0.8" fill="#000" opacity="0.120" filter="url(#b1)"/>
<rect x="392.70" y="66.10" width="12.6" height="3.4" rx="1.5" fill="#000" opacity="0.220" filter="url(#b1)"/>
<rect x="407.90" y="66.10" width="12.6" height="3.4" rx="1.5" fill="#000" opacity="0.220" filter="url(#b1)"/>
<rect x="422.30" y="66.10" width="12.6" height="3.4" rx="1.5" fill="#000" opacity="0.250" filter="url(#b1)"/>
<rect x="437.30" y="66.10" width="12.6" height="3.4" rx="1.5" fill="#000" opacity="0.220" filter="url(#b1)"/>
<rect x="451.90" y="66.10" width="12.6" height="3.4" rx="1.5" fill="#000" opacity="0.120" filter="url(#b1)"/>
<rect x="466.70" y="66.10" width="12.6" height="3.4" rx="1.5" fill="#000" opacity="0.080" filter="url(#b1)"/>
<rect x="392.70" y="60.90" width="12.6" height="2.2" rx="1.1" fill="#000" opacity="0.120" filter="url(#b1)"/>
<rect x="407.90" y="60.90" width="12.6" height="2.2" rx="1.1" fill="#000" opacity="0.120" filter="url(#b1)"/>
<rect x="422.30" y="60.90" width="12.6" height="2.2" rx="1.1" fill="#000" opacity="0.180" filter="url(#b1)"/>
<rect x="437.30" y="60.90" width="12.6" height="2.2" rx="1.1" fill="#000" opacity="0.120" filter="url(#b1)"/>
<rect x="451.90" y="60.90" width="12.6" height="2.2" rx="1.1" fill="#000" opacity="0.100" filter="url(#b1)"/>
<rect x="466.70" y="60.90" width="12.6" height="2.2" rx="1.1" fill="#000" opacity="0.100" filter="url(#b1)"/>
<rect x="392.70" y="63.80" width="12.6" height="2.4" rx="1.2" fill="#000" opacity="0.950" filter="url(#b1)"/>
<rect x="407.90" y="63.80" width="12.6" height="2.4" rx="1.2" fill="#000" opacity="0.920" filter="url(#b1)"/>
<rect x="422.30" y="63.80" width="12.6" height="2.4" rx="1.2" fill="#000" opacity="0.950" filter="url(#b1)"/>
<rect x="437.30" y="63.80" width="12.6" height="2.4" rx="1.2" fill="#000" opacity="0.950" filter="url(#b1)"/>
<rect x="451.90" y="63.20" width="12.6" height="2.4" rx="1.2" fill="#000" opacity="0.920" filter="url(#b1)"/>
<rect x="466.70" y="62.80" width="12.6" height="2.4" rx="1.2" fill="#000" opacity="0.750" filter="url(#b1)"/>
<rect x="392.70" y="69.40" width="12.6" height="2.4" rx="1.2" fill="#000" opacity="0.880" filter="url(#b1)"/>
<rect x="407.90" y="69.40" width="12.6" height="2.4" rx="1.2" fill="#000" opacity="0.850" filter="url(#b1)"/>
<rect x="422.30" y="69.40" width="12.6" height="2.4" rx="1.2" fill="#000" opacity="0.900" filter="url(#b1)"/>
<rect x="437.30" y="68.40" width="12.6" height="2.4" rx="1.2" fill="#000" opacity="0.920" filter="url(#b1)"/>
<rect x="451.90" y="69.40" width="12.6" height="2.4" rx="1.2" fill="#000" opacity="0.250" filter="url(#b1)"/>
<rect x="466.70" y="69.40" width="12.6" height="2.4" rx="1.2" fill="#000" opacity="0.120" filter="url(#b1)"/>
<rect x="392.70" y="75.30" width="12.6" height="1.4" rx="0.7" fill="#000" opacity="0.050" filter="url(#b1)"/>
<rect x="407.90" y="75.30" width="12.6" height="1.4" rx="0.7" fill="#000" opacity="0.050" filter="url(#b1)"/>
<rect x="422.30" y="75.30" width="12.6" height="1.4" rx="0.7" fill="#000" opacity="0.050" filter="url(#b1)"/>
<rect x="437.30" y="75.30" width="12.6" height="1.4" rx="0.7" fill="#000" opacity="0.050" filter="url(#b1)"/>
<rect x="451.90" y="75.30" width="12.6" height="1.4" rx="0.7" fill="#000" opacity="0.050" filter="url(#b1)"/>
<rect x="466.70" y="75.30" width="12.6" height="1.4" rx="0.7" fill="#000" opacity="0.050" filter="url(#b1)"/>
<rect x="392.70" y="87.50" width="12.6" height="1.6" rx="0.8" fill="#000" opacity="0.070" filter="url(#b1)"/>
<rect x="407.90" y="87.50" width="12.6" height="1.6" rx="0.8" fill="#000" opacity="0.070" filter="url(#b1)"/>
<rect x="422.30" y="87.50" width="12.6" height="1.6" rx="0.8" fill="#000" opacity="0.070" filter="url(#b1)"/>
<rect x="437.30" y="87.50" width="12.6" height="1.6" rx="0.8" fill="#000" opacity="0.060" filter="url(#b1)"/>
<rect x="451.90" y="87.50" width="12.6" height="1.6" rx="0.8" fill="#000" opacity="0.060" filter="url(#b1)"/>
<rect x="466.70" y="87.50" width="12.6" height="1.6" rx="0.8" fill="#000" opacity="0.060" filter="url(#b1)"/>
<rect x="392.70" y="91.20" width="12.6" height="2.2" rx="1.1" fill="#000" opacity="0.140" filter="url(#b1)"/>
<rect x="407.90" y="91.20" width="12.6" height="2.2" rx="1.1" fill="#000" opacity="0.140" filter="url(#b1)"/>
<rect x="422.30" y="91.20" width="12.6" height="2.2" rx="1.1" fill="#000" opacity="0.160" filter="url(#b1)"/>
<rect x="437.30" y="91.20" width="12.6" height="2.2" rx="1.1" fill="#000" opacity="0.100" filter="url(#b1)"/>
<rect x="451.90" y="91.20" width="12.6" height="2.2" rx="1.1" fill="#000" opacity="0.120" filter="url(#b1)"/>
<rect x="466.70" y="91.20" width="12.6" height="2.2" rx="1.1" fill="#000" opacity="0.140" filter="url(#b1)"/>
<rect x="392.70" y="97.00" width="12.6" height="1.8" rx="0.9" fill="#000" opacity="0.750" filter="url(#b1)"/>
<rect x="407.90" y="97.00" width="12.6" height="1.8" rx="0.9" fill="#000" opacity="0.700" filter="url(#b1)"/>
<rect x="422.30" y="97.00" width="12.6" height="1.8" rx="0.9" fill="#000" opacity="0.750" filter="url(#b1)"/>
<rect x="437.30" y="97.00" width="12.6" height="1.8" rx="0.9" fill="#000" opacity="0.450" filter="url(#b1)"/>
<rect x="451.90" y="97.00" width="12.6" height="1.8" rx="0.9" fill="#000" opacity="0.600" filter="url(#b1)"/>
<rect x="466.70" y="97.00" width="12.6" height="1.8" rx="0.9" fill="#000" opacity="0.700" filter="url(#b1)"/>
<rect x="392.70" y="100.10" width="12.6" height="1.4" rx="0.7" fill="#000" opacity="0.400" filter="url(#b1)"/>
<rect x="407.90" y="100.10" width="12.6" height="1.4" rx="0.7" fill="#000" opacity="0.400" filter="url(#b1)"/>
<rect x="422.30" y="100.10" width="12.6" height="1.4" rx="0.7" fill="#000" opacity="0.450" filter="url(#b1)"/>
<rect x="437.30" y="100.10" width="12.6" height="1.4" rx="0.7" fill="#000" opacity="0.300" filter="url(#b1)"/>
<rect x="451.90" y="100.10" width="12.6" height="1.4" rx="0.7" fill="#000" opacity="0.350" filter="url(#b1)"/>
<rect x="466.70" y="100.10" width="12.6" height="1.4" rx="0.7" fill="#000" opacity="0.400" filter="url(#b1)"/>
<rect x="392.70" y="103.80" width="12.6" height="2.0" rx="1.0" fill="#000" opacity="0.900" filter="url(#b1)"/>
<rect x="407.90" y="103.80" width="12.6" height="2.0" rx="1.0" fill="#000" opacity="0.880" filter="url(#b1)"/>
<rect x="422.30" y="103.80" width="12.6" height="2.0" rx="1.0" fill="#000" opacity="0.900" filter="url(#b1)"/>
<rect x="437.30" y="103.80" width="12.6" height="2.0" rx="1.0" fill="#000" opacity="0.850" filter="url(#b1)"/>
<rect x="451.90" y="103.80" width="12.6" height="2.0" rx="1.0" fill="#000" opacity="0.850" filter="url(#b1)"/>
<rect x="466.70" y="103.80" width="12.6" height="2.0" rx="1.0" fill="#000" opacity="0.880" filter="url(#b1)"/>
<rect x="392.70" y="108.70" width="12.6" height="4.4" rx="1.5" fill="#000" opacity="1.000" filter="url(#b1)"/>
<rect x="407.90" y="108.70" width="12.6" height="4.4" rx="1.5" fill="#000" opacity="1.000" filter="url(#b1)"/>
<rect x="422.30" y="108.70" width="12.6" height="4.4" rx="1.5" fill="#000" opacity="1.000" filter="url(#b1)"/>
<rect x="437.30" y="108.70" width="12.6" height="4.4" rx="1.5" fill="#000" opacity="1.000" filter="url(#b1)"/>
<rect x="451.90" y="108.70" width="12.6" height="4.4" rx="1.5" fill="#000" opacity="1.000" filter="url(#b1)"/>
<rect x="466.70" y="108.70" width="12.6" height="4.4" rx="1.5" fill="#000" opacity="1.000" filter="url(#b1)"/>
<rect x="392.70" y="114.30" width="12.6" height="1.4" rx="0.7" fill="#000" opacity="0.150" filter="url(#b1)"/>
<rect x="407.90" y="114.30" width="12.6" height="1.4" rx="0.7" fill="#000" opacity="0.120" filter="url(#b1)"/>
<rect x="422.30" y="114.30" width="12.6" height="1.4" rx="0.7" fill="#000" opacity="0.150" filter="url(#b1)"/>
<rect x="437.30" y="114.30" width="12.6" height="1.4" rx="0.7" fill="#000" opacity="0.450" filter="url(#b1)"/>
<rect x="451.90" y="114.30" width="12.6" height="1.4" rx="0.7" fill="#000" opacity="0.150" filter="url(#b1)"/>
<rect x="466.70" y="114.30" width="12.6" height="1.4" rx="0.7" fill="#000" opacity="0.120" filter="url(#b1)"/>
<rect x="392.70" y="120.70" width="12.6" height="1.4" rx="0.7" fill="#000" opacity="0.150" filter="url(#b1)"/>
<rect x="407.90" y="120.70" width="12.6" height="1.4" rx="0.7" fill="#000" opacity="0.200" filter="url(#b1)"/>
<rect x="422.30" y="120.70" width="12.6" height="1.4" rx="0.7" fill="#000" opacity="0.200" filter="url(#b1)"/>
<rect x="437.30" y="120.70" width="12.6" height="1.4" rx="0.7" fill="#000" opacity="0.120" filter="url(#b1)"/>
<rect x="451.90" y="120.70" width="12.6" height="1.4" rx="0.7" fill="#000" opacity="0.150" filter="url(#b1)"/>
<rect x="466.70" y="120.70" width="12.6" height="1.4" rx="0.7" fill="#000" opacity="0.120" filter="url(#b1)"/>
<rect x="392.70" y="128.40" width="12.6" height="2.0" rx="1.0" fill="#000" opacity="0.700" filter="url(#b1)"/>
<rect x="407.90" y="128.40" width="12.6" height="2.0" rx="1.0" fill="#000" opacity="0.720" filter="url(#b1)"/>
<rect x="422.30" y="128.40" width="12.6" height="2.0" rx="1.0" fill="#000" opacity="0.750" filter="url(#b1)"/>
<rect x="437.30" y="128.40" width="12.6" height="2.0" rx="1.0" fill="#000" opacity="0.400" filter="url(#b1)"/>
<rect x="451.90" y="128.40" width="12.6" height="2.0" rx="1.0" fill="#000" opacity="0.450" filter="url(#b1)"/>
<rect x="466.70" y="128.40" width="12.6" height="2.0" rx="1.0" fill="#000" opacity="0.450" filter="url(#b1)"/>
<rect x="392.70" y="143.00" width="12.6" height="2.4" rx="1.2" fill="#000" opacity="0.800" filter="url(#b1)"/>
<rect x="407.90" y="143.00" width="12.6" height="2.4" rx="1.2" fill="#000" opacity="0.550" filter="url(#b1)"/>
<rect x="422.30" y="143.00" width="12.6" height="2.4" rx="1.2" fill="#000" opacity="0.600" filter="url(#b1)"/>
<rect x="437.30" y="143.00" width="12.6" height="2.4" rx="1.2" fill="#000" opacity="0.250" filter="url(#b1)"/>
<rect x="451.90" y="143.00" width="12.6" height="2.4" rx="1.2" fill="#000" opacity="0.080" filter="url(#b1)"/>
<rect x="466.70" y="143.00" width="12.6" height="2.4" rx="1.2" fill="#000" opacity="0.850" filter="url(#b1)"/>
<rect x="392.70" y="146.00" width="12.6" height="1.6" rx="0.8" fill="#000" opacity="0.300" filter="url(#b1)"/>
<rect x="407.90" y="146.00" width="12.6" height="1.6" rx="0.8" fill="#000" opacity="0.250" filter="url(#b1)"/>
<rect x="422.30" y="146.00" width="12.6" height="1.6" rx="0.8" fill="#000" opacity="0.350" filter="url(#b1)"/>
<rect x="437.30" y="146.00" width="12.6" height="1.6" rx="0.8" fill="#000" opacity="0.100" filter="url(#b1)"/>
<rect x="451.90" y="146.00" width="12.6" height="1.6" rx="0.8" fill="#000" opacity="0.050" filter="url(#b1)"/>
<rect x="466.70" y="146.00" width="12.6" height="1.6" rx="0.8" fill="#000" opacity="0.200" filter="url(#b1)"/>
<rect x="392.70" y="156.70" width="12.6" height="2.6" rx="1.3" fill="#000" opacity="1.000" filter="url(#b1)"/>
<rect x="407.90" y="156.70" width="12.6" height="2.6" rx="1.3" fill="#000" opacity="1.000" filter="url(#b1)"/>
<rect x="422.30" y="156.70" width="12.6" height="2.6" rx="1.3" fill="#000" opacity="1.000" filter="url(#b1)"/>
<rect x="437.30" y="156.70" width="12.6" height="2.6" rx="1.3" fill="#000" opacity="0.200" filter="url(#b1)"/>
<rect x="451.90" y="156.70" width="12.6" height="2.6" rx="1.3" fill="#000" opacity="0.600" filter="url(#b1)"/>
<rect x="466.70" y="156.70" width="12.6" height="2.6" rx="1.3" fill="#000" opacity="0.500" filter="url(#b1)"/>
<rect x="392.70" y="171.30" width="12.6" height="1.8" rx="0.9" fill="#000" opacity="0.850" filter="url(#b1)"/>
<rect x="407.90" y="171.30" width="12.6" height="1.8" rx="0.9" fill="#000" opacity="0.600" filter="url(#b1)"/>
<rect x="422.30" y="171.30" width="12.6" height="1.8" rx="0.9" fill="#000" opacity="0.900" filter="url(#b1)"/>
<rect x="437.30" y="171.30" width="12.6" height="1.8" rx="0.9" fill="#000" opacity="0.000" filter="url(#b1)"/>
<rect x="451.90" y="171.30" width="12.6" height="1.8" rx="0.9" fill="#000" opacity="0.250" filter="url(#b1)"/>
<rect x="466.70" y="171.30" width="12.6" height="1.8" rx="0.9" fill="#000" opacity="0.250" filter="url(#b1)"/>
<rect x="392.70" y="182.70" width="12.6" height="3.0" rx="1.5" fill="#000" opacity="1.000" filter="url(#b1)"/>
<rect x="407.90" y="184.10" width="12.6" height="3.0" rx="1.5" fill="#000" opacity="0.950" filter="url(#b1)"/>
<rect x="422.30" y="184.50" width="12.6" height="3.0" rx="1.5" fill="#000" opacity="0.950" filter="url(#b1)"/>
<rect x="437.30" y="184.00" width="12.6" height="3.0" rx="1.5" fill="#000" opacity="0.000" filter="url(#b1)"/>
<rect x="451.90" y="184.00" width="12.6" height="3.0" rx="1.5" fill="#000" opacity="0.060" filter="url(#b1)"/>
<rect x="466.70" y="184.00" width="12.6" height="3.0" rx="1.5" fill="#000" opacity="0.050" filter="url(#b1)"/>
<rect x="392.70" y="194.15" width="12.6" height="1.5" rx="0.75" fill="#000" opacity="0.050" filter="url(#b1)"/>
<rect x="407.90" y="194.15" width="12.6" height="1.5" rx="0.75" fill="#000" opacity="0.200" filter="url(#b1)"/>
<rect x="422.30" y="194.15" width="12.6" height="1.5" rx="0.75" fill="#000" opacity="0.250" filter="url(#b1)"/>
<rect x="437.30" y="193.25" width="12.6" height="3.3" rx="1.5" fill="#000" opacity="1.000" filter="url(#b1)"/>
<rect x="451.90" y="193.25" width="12.6" height="3.3" rx="1.5" fill="#000" opacity="1.000" filter="url(#b1)"/>
<rect x="466.70" y="192.95" width="12.6" height="3.9" rx="1.5" fill="#000" opacity="1.000" filter="url(#b1)"/>
<rect x="392.70" y="208.50" width="12.6" height="2.6" rx="1.3" fill="#000" opacity="1.000" filter="url(#b1)"/>
<rect x="407.90" y="208.50" width="12.6" height="2.6" rx="1.3" fill="#000" opacity="0.850" filter="url(#b1)"/>
<rect x="422.30" y="208.50" width="12.6" height="2.6" rx="1.3" fill="#000" opacity="1.000" filter="url(#b1)"/>
<rect x="437.30" y="208.50" width="12.6" height="2.6" rx="1.3" fill="#000" opacity="0.950" filter="url(#b1)"/>
<rect x="451.90" y="208.50" width="12.6" height="2.6" rx="1.3" fill="#000" opacity="0.950" filter="url(#b1)"/>
<rect x="466.70" y="208.50" width="12.6" height="2.6" rx="1.3" fill="#000" opacity="0.950" filter="url(#b1)"/>
<text x="386.0" y="48.9" font-size="3.2" font-weight="normal" text-anchor="end" fill="#444" >250kDa</text>
<line x1="386.6" y1="47.8" x2="389.4" y2="47.8" stroke="#222" stroke-width="0.7"/>
<text x="386.0" y="63.300000000000004" font-size="3.2" font-weight="normal" text-anchor="end" fill="#444" >150kDa</text>
<line x1="386.6" y1="62.2" x2="389.4" y2="62.2" stroke="#222" stroke-width="0.7"/>
<text x="386.0" y="77.1" font-size="3.2" font-weight="normal" text-anchor="end" fill="#444" >100kDa</text>
<line x1="386.6" y1="76.0" x2="389.4" y2="76.0" stroke="#222" stroke-width="0.7"/>
<text x="386.0" y="83.3" font-size="3.2" font-weight="normal" text-anchor="end" fill="#444" >75kDa</text>
<line x1="386.6" y1="82.2" x2="389.4" y2="82.2" stroke="#222" stroke-width="0.7"/>
<text x="386.0" y="100.69999999999999" font-size="3.2" font-weight="normal" text-anchor="end" fill="#444" >50kDa</text>
<line x1="386.6" y1="99.6" x2="389.4" y2="99.6" stroke="#222" stroke-width="0.7"/>
<text x="386.0" y="109.89999999999999" font-size="3.2" font-weight="normal" text-anchor="end" fill="#444" >37kDa</text>
<line x1="386.6" y1="108.8" x2="389.4" y2="108.8" stroke="#222" stroke-width="0.7"/>
<text x="386.0" y="123.5" font-size="3.2" font-weight="normal" text-anchor="end" fill="#444" >25kDa</text>
<line x1="386.6" y1="122.4" x2="389.4" y2="122.4" stroke="#222" stroke-width="0.7"/>
<text x="386.0" y="128.3" font-size="3.2" font-weight="normal" text-anchor="end" fill="#444" >20kDa</text>
<line x1="386.6" y1="127.2" x2="389.4" y2="127.2" stroke="#222" stroke-width="0.7"/>
<text x="386.0" y="134.1" font-size="3.2" font-weight="normal" text-anchor="end" fill="#444" >15kDa</text>
<line x1="386.6" y1="133.0" x2="389.4" y2="133.0" stroke="#222" stroke-width="0.7"/>
<line x1="481.8" y1="46.4" x2="484.7" y2="46.4" stroke="#222" stroke-width="0.7"/>
<text x="485.7" y="48.3" font-size="5.5" font-weight="normal" text-anchor="start" fill="#111" stroke="#111" stroke-width="0.2" textLength="33" lengthAdjust="spacingAndGlyphs">Usp9x/Usp24</text>
<line x1="482.8" y1="145.6" x2="486.6" y2="145.6" stroke="#222" stroke-width="0.7"/>
<text x="488.4" y="147.5" font-size="5.3" font-weight="normal" text-anchor="start" fill="#111" stroke="#111" stroke-width="0.2">Usp9x</text>
<line x1="482.8" y1="158.6" x2="486.6" y2="158.6" stroke="#222" stroke-width="0.7"/>
<text x="488.4" y="160.5" font-size="5.3" font-weight="normal" text-anchor="start" fill="#111" stroke="#111" stroke-width="0.2">Usp24</text>
<line x1="482.8" y1="172.0" x2="486.6" y2="172.0" stroke="#222" stroke-width="0.7"/>
<text x="488.4" y="173.9" font-size="5.3" font-weight="normal" text-anchor="start" fill="#111" stroke="#111" stroke-width="0.2">Mcl-1</text>
<line x1="482.8" y1="185.2" x2="486.6" y2="185.2" stroke="#222" stroke-width="0.7"/>
<text x="488.4" y="187.1" font-size="5.3" font-weight="normal" text-anchor="start" fill="#111" stroke="#111" stroke-width="0.2">PARP</text>
<line x1="482.8" y1="193.6" x2="486.6" y2="193.6" stroke="#222" stroke-width="0.7"/>
<text x="488.4" y="195.5" font-size="5.3" font-weight="normal" text-anchor="start" fill="#111" stroke="#111" stroke-width="0.2">cPARP</text>
<line x1="482.8" y1="209.6" x2="486.6" y2="209.6" stroke="#222" stroke-width="0.7"/>
<text x="488.4" y="211.5" font-size="5.3" font-weight="normal" text-anchor="start" fill="#111" stroke="#111" stroke-width="0.2">Actin</text>
<text x="0" y="0" font-size="9.6" font-weight="normal" text-anchor="middle" fill="#000" transform="translate(487.9,96.4) rotate(90)" textLength="49.6" lengthAdjust="spacingAndGlyphs" stroke="#000" stroke-width="0.15">DUB Activity</text>
</g></svg>
</body></html>
